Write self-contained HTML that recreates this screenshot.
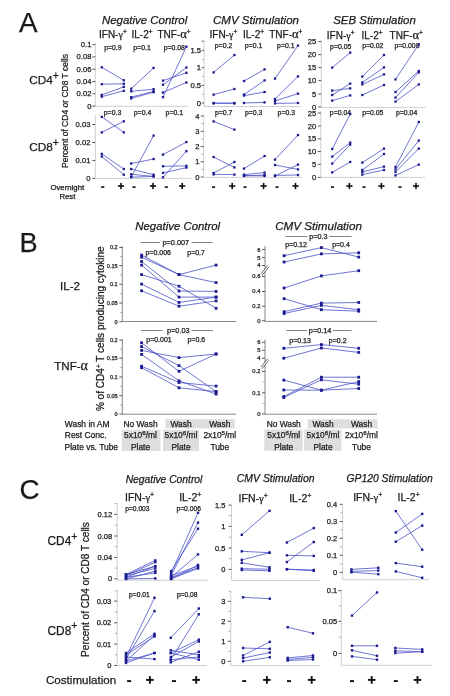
<!DOCTYPE html>
<html><head><meta charset="utf-8"><style>
html,body{margin:0;padding:0;background:#fff;width:450px;height:696px;overflow:hidden}
svg{display:block;font-family:"Liberation Sans",sans-serif;will-change:transform}
text{stroke:#1a1a1a;stroke-width:.25px}
</style></head><body>
<svg width="450" height="696" viewBox="0 0 450 696">
<rect width="450" height="696" fill="#fff"/>
<text x="19.0" y="31.7" font-size="27.8" text-anchor="start" fill="#1a1a1a" >A</text>
<text x="102.0" y="24.4" font-size="11.45" text-anchor="start" font-style="italic" fill="#1a1a1a" >Negative Control</text>
<text x="213.0" y="24.1" font-size="11.55" text-anchor="start" font-style="italic" fill="#1a1a1a" >CMV Stimulation</text>
<text x="333.2" y="24.4" font-size="11.45" text-anchor="start" font-style="italic" fill="#1a1a1a" >SEB Stimulation</text>
<text x="99.0" y="37.9" font-size="10" fill="#1a1a1a">IFN-<tspan font-family="Liberation Serif">γ</tspan><tspan dy="-3.8" font-size="6.5">+</tspan></text>
<text x="131.5" y="37.9" font-size="10" fill="#1a1a1a">IL-2<tspan dy="-3.8" font-size="6.5">+</tspan></text>
<text x="157.5" y="37.9" font-size="10" fill="#1a1a1a">TNF-<tspan font-family="Liberation Serif" font-size="12.5">α</tspan><tspan dy="-3.8" font-size="6.5">+</tspan></text>
<text x="209.5" y="37.9" font-size="10" fill="#1a1a1a">IFN-<tspan font-family="Liberation Serif">γ</tspan><tspan dy="-3.8" font-size="6.5">+</tspan></text>
<text x="243.0" y="37.9" font-size="10" fill="#1a1a1a">IL-2<tspan dy="-3.8" font-size="6.5">+</tspan></text>
<text x="269.2" y="37.9" font-size="10" fill="#1a1a1a">TNF-<tspan font-family="Liberation Serif" font-size="12.5">α</tspan><tspan dy="-3.8" font-size="6.5">+</tspan></text>
<text x="326.8" y="38.7" font-size="10" fill="#1a1a1a">IFN-<tspan font-family="Liberation Serif">γ</tspan><tspan dy="-3.8" font-size="6.5">+</tspan></text>
<text x="361.5" y="38.7" font-size="10" fill="#1a1a1a">IL-2<tspan dy="-3.8" font-size="6.5">+</tspan></text>
<text x="389.6" y="38.7" font-size="10" fill="#1a1a1a">TNF-<tspan font-family="Liberation Serif" font-size="12.5">α</tspan><tspan dy="-3.8" font-size="6.5">+</tspan></text>
<text x="29.2" y="84.2" font-size="11.8" fill="#1a1a1a">CD4<tspan dy="-5.2" font-size="10.5">+</tspan></text>
<text x="29.2" y="151.4" font-size="11.8" fill="#1a1a1a">CD8<tspan dy="-5.2" font-size="10.5">+</tspan></text>
<text x="0" y="0" font-size="8.5" fill="#1a1a1a" text-anchor="middle" transform="translate(68,111) rotate(-90)">Percent of CD4 or CD8 T cells</text>
<text x="67.3" y="189.5" font-size="7.8" text-anchor="middle" fill="#1a1a1a" >Overnight</text>
<text x="67.4" y="198.8" font-size="7.8" text-anchor="middle" fill="#1a1a1a" >Rest</text>
<line x1="95.3" y1="43.0" x2="95.3" y2="106.3" stroke="#c4c4c4" stroke-width="0.8"/>
<line x1="92.3" y1="44.6" x2="95.3" y2="44.6" stroke="#333333" stroke-width="0.8"/>
<text x="91.4" y="47.1" font-size="7.6" text-anchor="end" fill="#1a1a1a" >0.1</text>
<line x1="92.3" y1="56.9" x2="95.3" y2="56.9" stroke="#333333" stroke-width="0.8"/>
<text x="91.4" y="59.4" font-size="7.6" text-anchor="end" fill="#1a1a1a" >0.08</text>
<line x1="92.3" y1="69.2" x2="95.3" y2="69.2" stroke="#333333" stroke-width="0.8"/>
<text x="91.4" y="71.7" font-size="7.6" text-anchor="end" fill="#1a1a1a" >0.06</text>
<line x1="92.3" y1="81.5" x2="95.3" y2="81.5" stroke="#333333" stroke-width="0.8"/>
<text x="91.4" y="84.0" font-size="7.6" text-anchor="end" fill="#1a1a1a" >0.04</text>
<line x1="92.3" y1="93.8" x2="95.3" y2="93.8" stroke="#333333" stroke-width="0.8"/>
<text x="91.4" y="96.3" font-size="7.6" text-anchor="end" fill="#1a1a1a" >0.02</text>
<line x1="92.3" y1="106.1" x2="95.3" y2="106.1" stroke="#333333" stroke-width="0.8"/>
<text x="91.4" y="108.6" font-size="7.6" text-anchor="end" fill="#1a1a1a" >0</text>
<line x1="95.3" y1="106.3" x2="188.0" y2="106.3" stroke="#c4c4c4" stroke-width="0.8"/>
<line x1="95.3" y1="115.0" x2="95.3" y2="178.4" stroke="#c4c4c4" stroke-width="0.8"/>
<line x1="92.3" y1="124.5" x2="95.3" y2="124.5" stroke="#333333" stroke-width="0.8"/>
<text x="90.4" y="127.0" font-size="7.6" text-anchor="end" fill="#1a1a1a" >0.03</text>
<line x1="92.3" y1="142.5" x2="95.3" y2="142.5" stroke="#333333" stroke-width="0.8"/>
<text x="90.4" y="145.0" font-size="7.6" text-anchor="end" fill="#1a1a1a" >0.02</text>
<line x1="92.3" y1="160.5" x2="95.3" y2="160.5" stroke="#333333" stroke-width="0.8"/>
<text x="90.4" y="163.0" font-size="7.6" text-anchor="end" fill="#1a1a1a" >0.01</text>
<line x1="92.3" y1="178.4" x2="95.3" y2="178.4" stroke="#333333" stroke-width="0.8"/>
<text x="90.4" y="180.9" font-size="7.6" text-anchor="end" fill="#1a1a1a" >0</text>
<line x1="95.3" y1="178.4" x2="191.5" y2="178.4" stroke="#c4c4c4" stroke-width="0.8"/>
<line x1="204.1" y1="41.2" x2="204.1" y2="106.5" stroke="#c4c4c4" stroke-width="0.8"/>
<line x1="201.7" y1="41.2" x2="204.1" y2="41.2" stroke="#333333" stroke-width="0.8"/>
<line x1="201.7" y1="50.3" x2="204.1" y2="50.3" stroke="#333333" stroke-width="0.8"/>
<text x="201.0" y="52.8" font-size="7.6" text-anchor="end" fill="#1a1a1a" >1.5</text>
<line x1="201.7" y1="67.7" x2="204.1" y2="67.7" stroke="#333333" stroke-width="0.8"/>
<text x="201.0" y="70.2" font-size="7.6" text-anchor="end" fill="#1a1a1a" >1</text>
<line x1="201.7" y1="85.4" x2="204.1" y2="85.4" stroke="#333333" stroke-width="0.8"/>
<text x="201.0" y="87.9" font-size="7.6" text-anchor="end" fill="#1a1a1a" >0.5</text>
<line x1="201.7" y1="103.0" x2="204.1" y2="103.0" stroke="#333333" stroke-width="0.8"/>
<text x="201.0" y="105.5" font-size="7.6" text-anchor="end" fill="#1a1a1a" >0</text>
<line x1="202.2" y1="59.5" x2="204.1" y2="59.5" stroke="#909090" stroke-width="0.7"/>
<line x1="202.2" y1="76.5" x2="204.1" y2="76.5" stroke="#909090" stroke-width="0.7"/>
<line x1="202.2" y1="94.2" x2="204.1" y2="94.2" stroke="#909090" stroke-width="0.7"/>
<line x1="204.1" y1="106.5" x2="301.0" y2="106.5" stroke="#c4c4c4" stroke-width="0.8"/>
<line x1="203.7" y1="114.0" x2="203.7" y2="177.4" stroke="#c4c4c4" stroke-width="0.8"/>
<line x1="200.7" y1="116.0" x2="203.7" y2="116.0" stroke="#333333" stroke-width="0.8"/>
<text x="199.5" y="118.5" font-size="7.6" text-anchor="end" fill="#1a1a1a" >4</text>
<line x1="200.7" y1="131.3" x2="203.7" y2="131.3" stroke="#333333" stroke-width="0.8"/>
<text x="199.5" y="133.8" font-size="7.6" text-anchor="end" fill="#1a1a1a" >3</text>
<line x1="200.7" y1="146.6" x2="203.7" y2="146.6" stroke="#333333" stroke-width="0.8"/>
<text x="199.5" y="149.1" font-size="7.6" text-anchor="end" fill="#1a1a1a" >2</text>
<line x1="200.7" y1="161.8" x2="203.7" y2="161.8" stroke="#333333" stroke-width="0.8"/>
<text x="199.5" y="164.3" font-size="7.6" text-anchor="end" fill="#1a1a1a" >1</text>
<line x1="200.7" y1="177.0" x2="203.7" y2="177.0" stroke="#333333" stroke-width="0.8"/>
<text x="199.5" y="179.5" font-size="7.6" text-anchor="end" fill="#1a1a1a" >0</text>
<line x1="201.3" y1="123.6" x2="203.7" y2="123.6" stroke="#909090" stroke-width="0.7"/>
<line x1="201.3" y1="139.0" x2="203.7" y2="139.0" stroke="#909090" stroke-width="0.7"/>
<line x1="201.3" y1="154.2" x2="203.7" y2="154.2" stroke="#909090" stroke-width="0.7"/>
<line x1="201.3" y1="169.4" x2="203.7" y2="169.4" stroke="#909090" stroke-width="0.7"/>
<line x1="201.5" y1="177.4" x2="302.0" y2="177.4" stroke="#c4c4c4" stroke-width="0.8"/>
<line x1="321.3" y1="40.0" x2="321.3" y2="107.0" stroke="#c4c4c4" stroke-width="0.8"/>
<line x1="318.3" y1="41.6" x2="321.3" y2="41.6" stroke="#333333" stroke-width="0.8"/>
<text x="316.2" y="44.1" font-size="7.6" text-anchor="end" fill="#1a1a1a" >25</text>
<line x1="318.3" y1="54.6" x2="321.3" y2="54.6" stroke="#333333" stroke-width="0.8"/>
<text x="316.2" y="57.1" font-size="7.6" text-anchor="end" fill="#1a1a1a" >20</text>
<line x1="318.3" y1="67.6" x2="321.3" y2="67.6" stroke="#333333" stroke-width="0.8"/>
<text x="316.2" y="70.1" font-size="7.6" text-anchor="end" fill="#1a1a1a" >15</text>
<line x1="318.3" y1="80.6" x2="321.3" y2="80.6" stroke="#333333" stroke-width="0.8"/>
<text x="316.2" y="83.1" font-size="7.6" text-anchor="end" fill="#1a1a1a" >10</text>
<line x1="318.3" y1="94.0" x2="321.3" y2="94.0" stroke="#333333" stroke-width="0.8"/>
<text x="316.2" y="96.5" font-size="7.6" text-anchor="end" fill="#1a1a1a" >5</text>
<line x1="318.3" y1="107.0" x2="321.3" y2="107.0" stroke="#333333" stroke-width="0.8"/>
<text x="316.2" y="109.5" font-size="7.6" text-anchor="end" fill="#1a1a1a" >0</text>
<line x1="321.3" y1="107.4" x2="426.0" y2="107.4" stroke="#c4c4c4" stroke-width="0.8"/>
<line x1="320.8" y1="111.0" x2="320.8" y2="177.4" stroke="#c4c4c4" stroke-width="0.8"/>
<line x1="317.8" y1="113.0" x2="320.8" y2="113.0" stroke="#333333" stroke-width="0.8"/>
<text x="316.2" y="115.5" font-size="7.6" text-anchor="end" fill="#1a1a1a" >25</text>
<line x1="317.8" y1="126.0" x2="320.8" y2="126.0" stroke="#333333" stroke-width="0.8"/>
<text x="316.2" y="128.5" font-size="7.6" text-anchor="end" fill="#1a1a1a" >20</text>
<line x1="317.8" y1="138.8" x2="320.8" y2="138.8" stroke="#333333" stroke-width="0.8"/>
<text x="316.2" y="141.3" font-size="7.6" text-anchor="end" fill="#1a1a1a" >15</text>
<line x1="317.8" y1="151.5" x2="320.8" y2="151.5" stroke="#333333" stroke-width="0.8"/>
<text x="316.2" y="154.0" font-size="7.6" text-anchor="end" fill="#1a1a1a" >10</text>
<line x1="317.8" y1="164.4" x2="320.8" y2="164.4" stroke="#333333" stroke-width="0.8"/>
<text x="316.2" y="166.9" font-size="7.6" text-anchor="end" fill="#1a1a1a" >5</text>
<line x1="317.8" y1="177.4" x2="320.8" y2="177.4" stroke="#333333" stroke-width="0.8"/>
<text x="316.2" y="179.9" font-size="7.6" text-anchor="end" fill="#1a1a1a" >0</text>
<line x1="320.8" y1="177.4" x2="425.0" y2="177.4" stroke="#c4c4c4" stroke-width="0.8"/>
<text x="112.9" y="50.0" font-size="6.9" text-anchor="middle" fill="#1a1a1a" >p=0.9</text>
<text x="142.0" y="50.0" font-size="6.9" text-anchor="middle" fill="#1a1a1a" >p=0.1</text>
<text x="174.3" y="50.0" font-size="6.9" text-anchor="middle" fill="#1a1a1a" >p=0.08</text>
<text x="223.5" y="48.1" font-size="6.9" text-anchor="middle" fill="#1a1a1a" >p=0.2</text>
<text x="253.5" y="48.1" font-size="6.9" text-anchor="middle" fill="#1a1a1a" >p=0.1</text>
<text x="285.8" y="48.1" font-size="6.9" text-anchor="middle" fill="#1a1a1a" >p=0.1</text>
<text x="340.7" y="48.9" font-size="6.9" text-anchor="middle" fill="#1a1a1a" >p=0.05</text>
<text x="372.8" y="48.2" font-size="6.9" text-anchor="middle" fill="#1a1a1a" >p=0.02</text>
<text x="407.0" y="47.5" font-size="6.9" text-anchor="middle" fill="#1a1a1a" >p=0.008</text>
<text x="112.5" y="114.9" font-size="6.9" text-anchor="middle" fill="#1a1a1a" >p=0.3</text>
<text x="142.5" y="114.9" font-size="6.9" text-anchor="middle" fill="#1a1a1a" >p=0.4</text>
<text x="174.3" y="114.9" font-size="6.9" text-anchor="middle" fill="#1a1a1a" >p=0.1</text>
<text x="223.7" y="115.1" font-size="6.9" text-anchor="middle" fill="#1a1a1a" >p=0.7</text>
<text x="253.7" y="115.1" font-size="6.9" text-anchor="middle" fill="#1a1a1a" >p=0.3</text>
<text x="286.3" y="115.1" font-size="6.9" text-anchor="middle" fill="#1a1a1a" >p=0.3</text>
<text x="340.5" y="114.7" font-size="6.9" text-anchor="middle" fill="#1a1a1a" >p=0.04</text>
<text x="372.8" y="114.7" font-size="6.9" text-anchor="middle" fill="#1a1a1a" >p=0.05</text>
<text x="406.6" y="114.7" font-size="6.9" text-anchor="middle" fill="#1a1a1a" >p=0.04</text>
<line x1="101.8" y1="67.3" x2="123.8" y2="80.3" stroke="#4a52c8" stroke-width="0.8"/>
<line x1="101.8" y1="84.2" x2="123.8" y2="83.8" stroke="#4a52c8" stroke-width="0.8"/>
<line x1="101.8" y1="94.9" x2="123.8" y2="86.9" stroke="#4a52c8" stroke-width="0.8"/>
<line x1="101.8" y1="96.7" x2="123.8" y2="90.8" stroke="#4a52c8" stroke-width="0.8"/>
<rect x="100.65" y="66.15" width="2.3" height="2.3" fill="#1c1c90"/>
<rect x="122.65" y="79.15" width="2.3" height="2.3" fill="#1c1c90"/>
<rect x="100.65" y="83.05" width="2.3" height="2.3" fill="#1c1c90"/>
<rect x="122.65" y="82.65" width="2.3" height="2.3" fill="#1c1c90"/>
<rect x="100.65" y="93.75" width="2.3" height="2.3" fill="#1c1c90"/>
<rect x="122.65" y="85.75" width="2.3" height="2.3" fill="#1c1c90"/>
<rect x="100.65" y="95.55" width="2.3" height="2.3" fill="#1c1c90"/>
<rect x="122.65" y="89.65" width="2.3" height="2.3" fill="#1c1c90"/>
<line x1="131.2" y1="88.7" x2="153.6" y2="67.9" stroke="#4a52c8" stroke-width="0.8"/>
<line x1="131.2" y1="91.3" x2="153.6" y2="89.2" stroke="#4a52c8" stroke-width="0.8"/>
<line x1="131.2" y1="97.2" x2="153.6" y2="91.3" stroke="#4a52c8" stroke-width="0.8"/>
<line x1="131.2" y1="98.4" x2="153.6" y2="92.2" stroke="#4a52c8" stroke-width="0.8"/>
<rect x="130.05" y="87.55" width="2.3" height="2.3" fill="#1c1c90"/>
<rect x="152.45" y="66.75" width="2.3" height="2.3" fill="#1c1c90"/>
<rect x="130.05" y="90.15" width="2.3" height="2.3" fill="#1c1c90"/>
<rect x="152.45" y="88.05" width="2.3" height="2.3" fill="#1c1c90"/>
<rect x="130.05" y="96.05" width="2.3" height="2.3" fill="#1c1c90"/>
<rect x="152.45" y="90.15" width="2.3" height="2.3" fill="#1c1c90"/>
<rect x="130.05" y="97.25" width="2.3" height="2.3" fill="#1c1c90"/>
<rect x="152.45" y="91.05" width="2.3" height="2.3" fill="#1c1c90"/>
<line x1="163" y1="80.6" x2="186.4" y2="72.8" stroke="#4a52c8" stroke-width="0.8"/>
<line x1="163" y1="84.7" x2="186.4" y2="67.5" stroke="#4a52c8" stroke-width="0.8"/>
<line x1="163" y1="92.5" x2="186.4" y2="82.5" stroke="#4a52c8" stroke-width="0.8"/>
<line x1="163" y1="97.2" x2="186.4" y2="46.7" stroke="#4a52c8" stroke-width="0.8"/>
<rect x="161.85" y="79.45" width="2.3" height="2.3" fill="#1c1c90"/>
<rect x="185.25" y="71.65" width="2.3" height="2.3" fill="#1c1c90"/>
<rect x="161.85" y="83.55" width="2.3" height="2.3" fill="#1c1c90"/>
<rect x="185.25" y="66.35" width="2.3" height="2.3" fill="#1c1c90"/>
<rect x="161.85" y="91.35" width="2.3" height="2.3" fill="#1c1c90"/>
<rect x="185.25" y="81.35" width="2.3" height="2.3" fill="#1c1c90"/>
<rect x="161.85" y="96.05" width="2.3" height="2.3" fill="#1c1c90"/>
<rect x="185.25" y="45.55" width="2.3" height="2.3" fill="#1c1c90"/>
<line x1="101.8" y1="116.9" x2="123.8" y2="132.4" stroke="#4a52c8" stroke-width="0.8"/>
<line x1="101.8" y1="132.4" x2="123.8" y2="121.3" stroke="#4a52c8" stroke-width="0.8"/>
<line x1="101.8" y1="153.9" x2="123.8" y2="169" stroke="#4a52c8" stroke-width="0.8"/>
<line x1="101.8" y1="156.5" x2="123.8" y2="174.7" stroke="#4a52c8" stroke-width="0.8"/>
<rect x="100.65" y="115.75" width="2.3" height="2.3" fill="#1c1c90"/>
<rect x="122.65" y="131.25" width="2.3" height="2.3" fill="#1c1c90"/>
<rect x="100.65" y="131.25" width="2.3" height="2.3" fill="#1c1c90"/>
<rect x="122.65" y="120.15" width="2.3" height="2.3" fill="#1c1c90"/>
<rect x="100.65" y="152.75" width="2.3" height="2.3" fill="#1c1c90"/>
<rect x="122.65" y="167.85" width="2.3" height="2.3" fill="#1c1c90"/>
<rect x="100.65" y="155.35" width="2.3" height="2.3" fill="#1c1c90"/>
<rect x="122.65" y="173.55" width="2.3" height="2.3" fill="#1c1c90"/>
<line x1="131.2" y1="176.8" x2="153.6" y2="135.6" stroke="#4a52c8" stroke-width="0.8"/>
<line x1="131.2" y1="163.5" x2="153.6" y2="159" stroke="#4a52c8" stroke-width="0.8"/>
<line x1="131.2" y1="169" x2="153.6" y2="174.7" stroke="#4a52c8" stroke-width="0.8"/>
<line x1="131.2" y1="174.3" x2="153.6" y2="176.4" stroke="#4a52c8" stroke-width="0.8"/>
<line x1="131.2" y1="177.2" x2="153.6" y2="176.4" stroke="#4a52c8" stroke-width="0.8"/>
<rect x="130.05" y="175.65" width="2.3" height="2.3" fill="#1c1c90"/>
<rect x="152.45" y="134.45" width="2.3" height="2.3" fill="#1c1c90"/>
<rect x="130.05" y="162.35" width="2.3" height="2.3" fill="#1c1c90"/>
<rect x="152.45" y="157.85" width="2.3" height="2.3" fill="#1c1c90"/>
<rect x="130.05" y="167.85" width="2.3" height="2.3" fill="#1c1c90"/>
<rect x="152.45" y="173.55" width="2.3" height="2.3" fill="#1c1c90"/>
<rect x="130.05" y="173.15" width="2.3" height="2.3" fill="#1c1c90"/>
<rect x="152.45" y="175.25" width="2.3" height="2.3" fill="#1c1c90"/>
<rect x="130.05" y="176.05" width="2.3" height="2.3" fill="#1c1c90"/>
<rect x="152.45" y="175.25" width="2.3" height="2.3" fill="#1c1c90"/>
<line x1="163" y1="154.6" x2="186.4" y2="142.1" stroke="#4a52c8" stroke-width="0.8"/>
<line x1="163" y1="177.3" x2="186.4" y2="151.2" stroke="#4a52c8" stroke-width="0.8"/>
<line x1="163" y1="166.3" x2="186.4" y2="165.8" stroke="#4a52c8" stroke-width="0.8"/>
<line x1="163" y1="172.9" x2="186.4" y2="167.6" stroke="#4a52c8" stroke-width="0.8"/>
<rect x="161.85" y="153.45" width="2.3" height="2.3" fill="#1c1c90"/>
<rect x="185.25" y="140.95" width="2.3" height="2.3" fill="#1c1c90"/>
<rect x="161.85" y="176.15" width="2.3" height="2.3" fill="#1c1c90"/>
<rect x="185.25" y="150.05" width="2.3" height="2.3" fill="#1c1c90"/>
<rect x="161.85" y="165.15" width="2.3" height="2.3" fill="#1c1c90"/>
<rect x="185.25" y="164.65" width="2.3" height="2.3" fill="#1c1c90"/>
<rect x="161.85" y="171.75" width="2.3" height="2.3" fill="#1c1c90"/>
<rect x="185.25" y="166.45" width="2.3" height="2.3" fill="#1c1c90"/>
<line x1="213.6" y1="72.4" x2="234.4" y2="55" stroke="#4a52c8" stroke-width="0.8"/>
<line x1="213.6" y1="94.6" x2="234.4" y2="89" stroke="#4a52c8" stroke-width="0.8"/>
<line x1="213.6" y1="103" x2="234.4" y2="103.4" stroke="#4a52c8" stroke-width="0.8"/>
<line x1="213.6" y1="103.4" x2="234.4" y2="103" stroke="#4a52c8" stroke-width="0.8"/>
<rect x="212.45" y="71.25" width="2.3" height="2.3" fill="#1c1c90"/>
<rect x="233.25" y="53.85" width="2.3" height="2.3" fill="#1c1c90"/>
<rect x="212.45" y="93.45" width="2.3" height="2.3" fill="#1c1c90"/>
<rect x="233.25" y="87.85" width="2.3" height="2.3" fill="#1c1c90"/>
<rect x="212.45" y="101.85" width="2.3" height="2.3" fill="#1c1c90"/>
<rect x="233.25" y="102.25" width="2.3" height="2.3" fill="#1c1c90"/>
<rect x="212.45" y="102.25" width="2.3" height="2.3" fill="#1c1c90"/>
<rect x="233.25" y="101.85" width="2.3" height="2.3" fill="#1c1c90"/>
<line x1="244" y1="81" x2="264.6" y2="69.4" stroke="#4a52c8" stroke-width="0.8"/>
<line x1="244" y1="94.6" x2="264.6" y2="80.4" stroke="#4a52c8" stroke-width="0.8"/>
<line x1="244" y1="95.6" x2="264.6" y2="92" stroke="#4a52c8" stroke-width="0.8"/>
<line x1="244" y1="103" x2="264.6" y2="102.4" stroke="#4a52c8" stroke-width="0.8"/>
<rect x="242.85" y="79.85" width="2.3" height="2.3" fill="#1c1c90"/>
<rect x="263.45" y="68.25" width="2.3" height="2.3" fill="#1c1c90"/>
<rect x="242.85" y="93.45" width="2.3" height="2.3" fill="#1c1c90"/>
<rect x="263.45" y="79.25" width="2.3" height="2.3" fill="#1c1c90"/>
<rect x="242.85" y="94.45" width="2.3" height="2.3" fill="#1c1c90"/>
<rect x="263.45" y="90.85" width="2.3" height="2.3" fill="#1c1c90"/>
<rect x="242.85" y="101.85" width="2.3" height="2.3" fill="#1c1c90"/>
<rect x="263.45" y="101.25" width="2.3" height="2.3" fill="#1c1c90"/>
<line x1="275" y1="78.6" x2="298" y2="45.6" stroke="#4a52c8" stroke-width="0.8"/>
<line x1="275" y1="99" x2="298" y2="76.4" stroke="#4a52c8" stroke-width="0.8"/>
<line x1="275" y1="101" x2="298" y2="93.6" stroke="#4a52c8" stroke-width="0.8"/>
<line x1="275" y1="103.4" x2="298" y2="103" stroke="#4a52c8" stroke-width="0.8"/>
<rect x="273.85" y="77.45" width="2.3" height="2.3" fill="#1c1c90"/>
<rect x="296.85" y="44.45" width="2.3" height="2.3" fill="#1c1c90"/>
<rect x="273.85" y="97.85" width="2.3" height="2.3" fill="#1c1c90"/>
<rect x="296.85" y="75.25" width="2.3" height="2.3" fill="#1c1c90"/>
<rect x="273.85" y="99.85" width="2.3" height="2.3" fill="#1c1c90"/>
<rect x="296.85" y="92.45" width="2.3" height="2.3" fill="#1c1c90"/>
<rect x="273.85" y="102.25" width="2.3" height="2.3" fill="#1c1c90"/>
<rect x="296.85" y="101.85" width="2.3" height="2.3" fill="#1c1c90"/>
<line x1="213.6" y1="121.4" x2="234.4" y2="129.6" stroke="#4a52c8" stroke-width="0.8"/>
<line x1="213.6" y1="157" x2="234.4" y2="167.4" stroke="#4a52c8" stroke-width="0.8"/>
<line x1="213.6" y1="173" x2="234.4" y2="162" stroke="#4a52c8" stroke-width="0.8"/>
<line x1="213.6" y1="174.4" x2="234.4" y2="174.6" stroke="#4a52c8" stroke-width="0.8"/>
<rect x="212.45" y="120.25" width="2.3" height="2.3" fill="#1c1c90"/>
<rect x="233.25" y="128.45" width="2.3" height="2.3" fill="#1c1c90"/>
<rect x="212.45" y="155.85" width="2.3" height="2.3" fill="#1c1c90"/>
<rect x="233.25" y="166.25" width="2.3" height="2.3" fill="#1c1c90"/>
<rect x="212.45" y="171.85" width="2.3" height="2.3" fill="#1c1c90"/>
<rect x="233.25" y="160.85" width="2.3" height="2.3" fill="#1c1c90"/>
<rect x="212.45" y="173.25" width="2.3" height="2.3" fill="#1c1c90"/>
<rect x="233.25" y="173.45" width="2.3" height="2.3" fill="#1c1c90"/>
<line x1="244" y1="168.6" x2="264.6" y2="156" stroke="#4a52c8" stroke-width="0.8"/>
<line x1="244" y1="174.6" x2="264.6" y2="172.6" stroke="#4a52c8" stroke-width="0.8"/>
<line x1="244" y1="176" x2="264.6" y2="175" stroke="#4a52c8" stroke-width="0.8"/>
<line x1="244" y1="175.5" x2="264.6" y2="176" stroke="#4a52c8" stroke-width="0.8"/>
<rect x="242.85" y="167.45" width="2.3" height="2.3" fill="#1c1c90"/>
<rect x="263.45" y="154.85" width="2.3" height="2.3" fill="#1c1c90"/>
<rect x="242.85" y="173.45" width="2.3" height="2.3" fill="#1c1c90"/>
<rect x="263.45" y="171.45" width="2.3" height="2.3" fill="#1c1c90"/>
<rect x="242.85" y="174.85" width="2.3" height="2.3" fill="#1c1c90"/>
<rect x="263.45" y="173.85" width="2.3" height="2.3" fill="#1c1c90"/>
<rect x="242.85" y="174.35" width="2.3" height="2.3" fill="#1c1c90"/>
<rect x="263.45" y="174.85" width="2.3" height="2.3" fill="#1c1c90"/>
<line x1="275" y1="159.6" x2="298" y2="135" stroke="#4a52c8" stroke-width="0.8"/>
<line x1="275" y1="165" x2="298" y2="169.4" stroke="#4a52c8" stroke-width="0.8"/>
<line x1="275" y1="176" x2="298" y2="164.6" stroke="#4a52c8" stroke-width="0.8"/>
<line x1="275" y1="175.4" x2="298" y2="175" stroke="#4a52c8" stroke-width="0.8"/>
<rect x="273.85" y="158.45" width="2.3" height="2.3" fill="#1c1c90"/>
<rect x="296.85" y="133.85" width="2.3" height="2.3" fill="#1c1c90"/>
<rect x="273.85" y="163.85" width="2.3" height="2.3" fill="#1c1c90"/>
<rect x="296.85" y="168.25" width="2.3" height="2.3" fill="#1c1c90"/>
<rect x="273.85" y="174.85" width="2.3" height="2.3" fill="#1c1c90"/>
<rect x="296.85" y="163.45" width="2.3" height="2.3" fill="#1c1c90"/>
<rect x="273.85" y="174.25" width="2.3" height="2.3" fill="#1c1c90"/>
<rect x="296.85" y="173.85" width="2.3" height="2.3" fill="#1c1c90"/>
<line x1="332.2" y1="67.6" x2="350.2" y2="52.6" stroke="#4a52c8" stroke-width="0.8"/>
<line x1="332.2" y1="90.6" x2="350.2" y2="88.4" stroke="#4a52c8" stroke-width="0.8"/>
<line x1="332.2" y1="95" x2="350.2" y2="83.6" stroke="#4a52c8" stroke-width="0.8"/>
<line x1="332.2" y1="100.6" x2="350.2" y2="95.4" stroke="#4a52c8" stroke-width="0.8"/>
<rect x="331.05" y="66.45" width="2.3" height="2.3" fill="#1c1c90"/>
<rect x="349.05" y="51.45" width="2.3" height="2.3" fill="#1c1c90"/>
<rect x="331.05" y="89.45" width="2.3" height="2.3" fill="#1c1c90"/>
<rect x="349.05" y="87.25" width="2.3" height="2.3" fill="#1c1c90"/>
<rect x="331.05" y="93.85" width="2.3" height="2.3" fill="#1c1c90"/>
<rect x="349.05" y="82.45" width="2.3" height="2.3" fill="#1c1c90"/>
<rect x="331.05" y="99.45" width="2.3" height="2.3" fill="#1c1c90"/>
<rect x="349.05" y="94.25" width="2.3" height="2.3" fill="#1c1c90"/>
<line x1="362.3" y1="76.6" x2="384" y2="55" stroke="#4a52c8" stroke-width="0.8"/>
<line x1="362.3" y1="82.4" x2="384" y2="67.4" stroke="#4a52c8" stroke-width="0.8"/>
<line x1="362.3" y1="84.4" x2="384" y2="74.4" stroke="#4a52c8" stroke-width="0.8"/>
<line x1="362.3" y1="95" x2="384" y2="85" stroke="#4a52c8" stroke-width="0.8"/>
<rect x="361.15" y="75.45" width="2.3" height="2.3" fill="#1c1c90"/>
<rect x="382.85" y="53.85" width="2.3" height="2.3" fill="#1c1c90"/>
<rect x="361.15" y="81.25" width="2.3" height="2.3" fill="#1c1c90"/>
<rect x="382.85" y="66.25" width="2.3" height="2.3" fill="#1c1c90"/>
<rect x="361.15" y="83.25" width="2.3" height="2.3" fill="#1c1c90"/>
<rect x="382.85" y="73.25" width="2.3" height="2.3" fill="#1c1c90"/>
<rect x="361.15" y="93.85" width="2.3" height="2.3" fill="#1c1c90"/>
<rect x="382.85" y="83.85" width="2.3" height="2.3" fill="#1c1c90"/>
<line x1="395.5" y1="79.4" x2="418.8" y2="44.4" stroke="#4a52c8" stroke-width="0.8"/>
<line x1="395.5" y1="92" x2="418.8" y2="71" stroke="#4a52c8" stroke-width="0.8"/>
<line x1="395.5" y1="97.6" x2="418.8" y2="72.4" stroke="#4a52c8" stroke-width="0.8"/>
<line x1="395.5" y1="101.6" x2="418.8" y2="84.4" stroke="#4a52c8" stroke-width="0.8"/>
<rect x="394.35" y="78.25" width="2.3" height="2.3" fill="#1c1c90"/>
<rect x="417.65" y="43.25" width="2.3" height="2.3" fill="#1c1c90"/>
<rect x="394.35" y="90.85" width="2.3" height="2.3" fill="#1c1c90"/>
<rect x="417.65" y="69.85" width="2.3" height="2.3" fill="#1c1c90"/>
<rect x="394.35" y="96.45" width="2.3" height="2.3" fill="#1c1c90"/>
<rect x="417.65" y="71.25" width="2.3" height="2.3" fill="#1c1c90"/>
<rect x="394.35" y="100.45" width="2.3" height="2.3" fill="#1c1c90"/>
<rect x="417.65" y="83.25" width="2.3" height="2.3" fill="#1c1c90"/>
<line x1="332.2" y1="149" x2="350.2" y2="114" stroke="#4a52c8" stroke-width="0.8"/>
<line x1="332.2" y1="156.6" x2="350.2" y2="142.6" stroke="#4a52c8" stroke-width="0.8"/>
<line x1="332.2" y1="163.6" x2="350.2" y2="144.6" stroke="#4a52c8" stroke-width="0.8"/>
<line x1="332.2" y1="172.4" x2="350.2" y2="162" stroke="#4a52c8" stroke-width="0.8"/>
<rect x="331.05" y="147.85" width="2.3" height="2.3" fill="#1c1c90"/>
<rect x="349.05" y="112.85" width="2.3" height="2.3" fill="#1c1c90"/>
<rect x="331.05" y="155.45" width="2.3" height="2.3" fill="#1c1c90"/>
<rect x="349.05" y="141.45" width="2.3" height="2.3" fill="#1c1c90"/>
<rect x="331.05" y="162.45" width="2.3" height="2.3" fill="#1c1c90"/>
<rect x="349.05" y="143.45" width="2.3" height="2.3" fill="#1c1c90"/>
<rect x="331.05" y="171.25" width="2.3" height="2.3" fill="#1c1c90"/>
<rect x="349.05" y="160.85" width="2.3" height="2.3" fill="#1c1c90"/>
<line x1="362.3" y1="162.6" x2="384" y2="148.6" stroke="#4a52c8" stroke-width="0.8"/>
<line x1="362.3" y1="170" x2="384" y2="154" stroke="#4a52c8" stroke-width="0.8"/>
<line x1="362.3" y1="172" x2="384" y2="166.6" stroke="#4a52c8" stroke-width="0.8"/>
<line x1="362.3" y1="174.6" x2="384" y2="170" stroke="#4a52c8" stroke-width="0.8"/>
<rect x="361.15" y="161.45" width="2.3" height="2.3" fill="#1c1c90"/>
<rect x="382.85" y="147.45" width="2.3" height="2.3" fill="#1c1c90"/>
<rect x="361.15" y="168.85" width="2.3" height="2.3" fill="#1c1c90"/>
<rect x="382.85" y="152.85" width="2.3" height="2.3" fill="#1c1c90"/>
<rect x="361.15" y="170.85" width="2.3" height="2.3" fill="#1c1c90"/>
<rect x="382.85" y="165.45" width="2.3" height="2.3" fill="#1c1c90"/>
<rect x="361.15" y="173.45" width="2.3" height="2.3" fill="#1c1c90"/>
<rect x="382.85" y="168.85" width="2.3" height="2.3" fill="#1c1c90"/>
<line x1="395.5" y1="167" x2="418.8" y2="122" stroke="#4a52c8" stroke-width="0.8"/>
<line x1="395.5" y1="169.4" x2="418.8" y2="140.6" stroke="#4a52c8" stroke-width="0.8"/>
<line x1="395.5" y1="172" x2="418.8" y2="148.6" stroke="#4a52c8" stroke-width="0.8"/>
<line x1="395.5" y1="175.4" x2="418.8" y2="164.6" stroke="#4a52c8" stroke-width="0.8"/>
<rect x="394.35" y="165.85" width="2.3" height="2.3" fill="#1c1c90"/>
<rect x="417.65" y="120.85" width="2.3" height="2.3" fill="#1c1c90"/>
<rect x="394.35" y="168.25" width="2.3" height="2.3" fill="#1c1c90"/>
<rect x="417.65" y="139.45" width="2.3" height="2.3" fill="#1c1c90"/>
<rect x="394.35" y="170.85" width="2.3" height="2.3" fill="#1c1c90"/>
<rect x="417.65" y="147.45" width="2.3" height="2.3" fill="#1c1c90"/>
<rect x="394.35" y="174.25" width="2.3" height="2.3" fill="#1c1c90"/>
<rect x="417.65" y="163.45" width="2.3" height="2.3" fill="#1c1c90"/>
<rect x="101.10" y="186.30" width="3.2" height="1.6" fill="#111"/>
<rect x="117.90" y="185.20" width="6.2" height="1.6" fill="#111"/>
<rect x="120.20" y="182.90" width="1.6" height="6.2" fill="#111"/>
<rect x="132.40" y="186.30" width="3.2" height="1.6" fill="#111"/>
<rect x="149.90" y="185.20" width="6.2" height="1.6" fill="#111"/>
<rect x="152.20" y="182.90" width="1.6" height="6.2" fill="#111"/>
<rect x="164.70" y="186.30" width="3.2" height="1.6" fill="#111"/>
<rect x="179.10" y="185.20" width="6.2" height="1.6" fill="#111"/>
<rect x="181.40" y="182.90" width="1.6" height="6.2" fill="#111"/>
<rect x="211.90" y="186.30" width="3.2" height="1.6" fill="#111"/>
<rect x="229.10" y="185.20" width="6.2" height="1.6" fill="#111"/>
<rect x="231.40" y="182.90" width="1.6" height="6.2" fill="#111"/>
<rect x="243.40" y="186.30" width="3.2" height="1.6" fill="#111"/>
<rect x="260.50" y="185.20" width="6.2" height="1.6" fill="#111"/>
<rect x="262.80" y="182.90" width="1.6" height="6.2" fill="#111"/>
<rect x="275.40" y="186.30" width="3.2" height="1.6" fill="#111"/>
<rect x="292.40" y="185.20" width="6.2" height="1.6" fill="#111"/>
<rect x="294.70" y="182.90" width="1.6" height="6.2" fill="#111"/>
<rect x="330.80" y="186.30" width="3.2" height="1.6" fill="#111"/>
<rect x="346.30" y="185.20" width="6.2" height="1.6" fill="#111"/>
<rect x="348.60" y="182.90" width="1.6" height="6.2" fill="#111"/>
<rect x="362.40" y="186.30" width="3.2" height="1.6" fill="#111"/>
<rect x="378.30" y="185.20" width="6.2" height="1.6" fill="#111"/>
<rect x="380.60" y="182.90" width="1.6" height="6.2" fill="#111"/>
<rect x="398.40" y="186.30" width="3.2" height="1.6" fill="#111"/>
<rect x="412.90" y="185.20" width="6.2" height="1.6" fill="#111"/>
<rect x="415.20" y="182.90" width="1.6" height="6.2" fill="#111"/>
<text x="19.6" y="251.7" font-size="27.2" text-anchor="start" fill="#1a1a1a" >B</text>
<text x="135.3" y="230.1" font-size="11.4" text-anchor="start" font-style="italic" fill="#1a1a1a" >Negative Control</text>
<text x="275.2" y="230.2" font-size="11.65" text-anchor="start" font-style="italic" fill="#1a1a1a" >CMV Stimulation</text>
<text x="60.0" y="289.9" font-size="11.6" text-anchor="start" fill="#1a1a1a" >IL-2</text>
<text x="54.2" y="369.8" font-size="11.6" fill="#1a1a1a">TNF-<tspan font-family="Liberation Serif" font-size="14">α</tspan></text>
<text x="0" y="0" font-size="10.05" fill="#1a1a1a" text-anchor="middle" transform="translate(103.5,328.7) rotate(-90)">% of CD4<tspan dy="-3" font-size="6.5">+</tspan><tspan dy="3"> T cells producing cytokine</tspan></text>
<line x1="122.3" y1="246.0" x2="122.3" y2="321.5" stroke="#6a6a6a" stroke-width="0.8"/>
<line x1="119.3" y1="247.5" x2="122.3" y2="247.5" stroke="#333333" stroke-width="0.8"/>
<text x="117.7" y="249.3" font-size="5.6" text-anchor="end" fill="#1a1a1a" >0.2</text>
<line x1="119.3" y1="265.7" x2="122.3" y2="265.7" stroke="#333333" stroke-width="0.8"/>
<text x="117.7" y="267.5" font-size="5.6" text-anchor="end" fill="#1a1a1a" >0.15</text>
<line x1="119.3" y1="284.2" x2="122.3" y2="284.2" stroke="#333333" stroke-width="0.8"/>
<text x="117.7" y="286.0" font-size="5.6" text-anchor="end" fill="#1a1a1a" >0.1</text>
<line x1="119.3" y1="303.0" x2="122.3" y2="303.0" stroke="#333333" stroke-width="0.8"/>
<text x="117.7" y="304.8" font-size="5.6" text-anchor="end" fill="#1a1a1a" >0.05</text>
<line x1="119.3" y1="321.7" x2="122.3" y2="321.7" stroke="#333333" stroke-width="0.8"/>
<text x="117.7" y="323.5" font-size="5.6" text-anchor="end" fill="#1a1a1a" >0</text>
<line x1="119.9" y1="256.6" x2="122.3" y2="256.6" stroke="#909090" stroke-width="0.7"/>
<line x1="119.9" y1="274.9" x2="122.3" y2="274.9" stroke="#909090" stroke-width="0.7"/>
<line x1="119.9" y1="293.6" x2="122.3" y2="293.6" stroke="#909090" stroke-width="0.7"/>
<line x1="119.9" y1="312.4" x2="122.3" y2="312.4" stroke="#909090" stroke-width="0.7"/>
<line x1="122.3" y1="321.5" x2="236.0" y2="321.5" stroke="#6a6a6a" stroke-width="0.8"/>
<line x1="140.5" y1="242.5" x2="160.0" y2="242.5" stroke="#777" stroke-width="0.9"/>
<line x1="191.6" y1="242.5" x2="212.7" y2="242.5" stroke="#777" stroke-width="0.9"/>
<text x="175.8" y="245.1" font-size="7.3" text-anchor="middle" fill="#1a1a1a" >p=0.007</text>
<text x="158.2" y="254.9" font-size="7" text-anchor="middle" fill="#1a1a1a" >p=0.006</text>
<text x="196.1" y="254.9" font-size="7" text-anchor="middle" fill="#1a1a1a" >p=0.7</text>
<polyline points="141.6,255.1 179,274.6 216.1,265.1" fill="none" stroke="#4a52c8" stroke-width="0.8"/>
<polyline points="141.6,257.2 179,274.6 216.1,282.6" fill="none" stroke="#4a52c8" stroke-width="0.8"/>
<polyline points="141.6,261.5 179,291 216.1,291.4" fill="none" stroke="#4a52c8" stroke-width="0.8"/>
<polyline points="141.6,265.1 179,297.1 216.1,297.1" fill="none" stroke="#4a52c8" stroke-width="0.8"/>
<polyline points="141.6,274.6 179,286.2 216.1,308.3" fill="none" stroke="#4a52c8" stroke-width="0.8"/>
<polyline points="141.6,284.1 179,302.4 216.1,297.1" fill="none" stroke="#4a52c8" stroke-width="0.8"/>
<polyline points="141.6,290.8 179,306.2 216.1,300.9" fill="none" stroke="#4a52c8" stroke-width="0.8"/>
<rect x="140.20" y="253.70" width="2.8" height="2.8" fill="#1c1c90"/>
<rect x="177.60" y="273.20" width="2.8" height="2.8" fill="#1c1c90"/>
<rect x="214.70" y="263.70" width="2.8" height="2.8" fill="#1c1c90"/>
<rect x="140.20" y="255.80" width="2.8" height="2.8" fill="#1c1c90"/>
<rect x="177.60" y="273.20" width="2.8" height="2.8" fill="#1c1c90"/>
<rect x="214.70" y="281.20" width="2.8" height="2.8" fill="#1c1c90"/>
<rect x="140.20" y="260.10" width="2.8" height="2.8" fill="#1c1c90"/>
<rect x="177.60" y="289.60" width="2.8" height="2.8" fill="#1c1c90"/>
<rect x="214.70" y="290.00" width="2.8" height="2.8" fill="#1c1c90"/>
<rect x="140.20" y="263.70" width="2.8" height="2.8" fill="#1c1c90"/>
<rect x="177.60" y="295.70" width="2.8" height="2.8" fill="#1c1c90"/>
<rect x="214.70" y="295.70" width="2.8" height="2.8" fill="#1c1c90"/>
<rect x="140.20" y="273.20" width="2.8" height="2.8" fill="#1c1c90"/>
<rect x="177.60" y="284.80" width="2.8" height="2.8" fill="#1c1c90"/>
<rect x="214.70" y="306.90" width="2.8" height="2.8" fill="#1c1c90"/>
<rect x="140.20" y="282.70" width="2.8" height="2.8" fill="#1c1c90"/>
<rect x="177.60" y="301.00" width="2.8" height="2.8" fill="#1c1c90"/>
<rect x="214.70" y="295.70" width="2.8" height="2.8" fill="#1c1c90"/>
<rect x="140.20" y="289.40" width="2.8" height="2.8" fill="#1c1c90"/>
<rect x="177.60" y="304.80" width="2.8" height="2.8" fill="#1c1c90"/>
<rect x="214.70" y="299.50" width="2.8" height="2.8" fill="#1c1c90"/>
<line x1="122.3" y1="339.0" x2="122.3" y2="414.2" stroke="#6a6a6a" stroke-width="0.8"/>
<line x1="119.3" y1="340.2" x2="122.3" y2="340.2" stroke="#333333" stroke-width="0.8"/>
<text x="117.7" y="342.0" font-size="5.6" text-anchor="end" fill="#1a1a1a" >0.2</text>
<line x1="119.3" y1="358.2" x2="122.3" y2="358.2" stroke="#333333" stroke-width="0.8"/>
<text x="117.7" y="360.0" font-size="5.6" text-anchor="end" fill="#1a1a1a" >0.15</text>
<line x1="119.3" y1="377.0" x2="122.3" y2="377.0" stroke="#333333" stroke-width="0.8"/>
<text x="117.7" y="378.8" font-size="5.6" text-anchor="end" fill="#1a1a1a" >0.1</text>
<line x1="119.3" y1="395.7" x2="122.3" y2="395.7" stroke="#333333" stroke-width="0.8"/>
<text x="117.7" y="397.5" font-size="5.6" text-anchor="end" fill="#1a1a1a" >0.05</text>
<line x1="119.3" y1="414.0" x2="122.3" y2="414.0" stroke="#333333" stroke-width="0.8"/>
<text x="117.7" y="415.8" font-size="5.6" text-anchor="end" fill="#1a1a1a" >0</text>
<line x1="119.9" y1="349.2" x2="122.3" y2="349.2" stroke="#909090" stroke-width="0.7"/>
<line x1="119.9" y1="367.6" x2="122.3" y2="367.6" stroke="#909090" stroke-width="0.7"/>
<line x1="119.9" y1="386.4" x2="122.3" y2="386.4" stroke="#909090" stroke-width="0.7"/>
<line x1="119.9" y1="404.9" x2="122.3" y2="404.9" stroke="#909090" stroke-width="0.7"/>
<line x1="122.3" y1="414.2" x2="236.0" y2="414.2" stroke="#6a6a6a" stroke-width="0.8"/>
<line x1="141.0" y1="330.5" x2="162.5" y2="330.5" stroke="#777" stroke-width="0.9"/>
<line x1="191.6" y1="330.5" x2="213.0" y2="330.5" stroke="#777" stroke-width="0.9"/>
<text x="178.3" y="333.1" font-size="7.3" text-anchor="middle" fill="#1a1a1a" >p=0.03</text>
<text x="159.0" y="341.9" font-size="7" text-anchor="middle" fill="#1a1a1a" >p=0.001</text>
<text x="196.3" y="341.9" font-size="7" text-anchor="middle" fill="#1a1a1a" >p=0.6</text>
<polyline points="141.6,342.8 179,371.3 216.1,354" fill="none" stroke="#4a52c8" stroke-width="0.8"/>
<polyline points="141.6,346.6 179,365.6 216.1,391.6" fill="none" stroke="#4a52c8" stroke-width="0.8"/>
<polyline points="141.6,350.4 179,357.6 216.1,354" fill="none" stroke="#4a52c8" stroke-width="0.8"/>
<polyline points="141.6,354.4 179,380.8 216.1,394.1" fill="none" stroke="#4a52c8" stroke-width="0.8"/>
<polyline points="141.6,366.2 179,382.5 216.1,386.1" fill="none" stroke="#4a52c8" stroke-width="0.8"/>
<polyline points="141.6,367.7 179,387.8 216.1,391.6" fill="none" stroke="#4a52c8" stroke-width="0.8"/>
<rect x="140.20" y="341.40" width="2.8" height="2.8" fill="#1c1c90"/>
<rect x="177.60" y="369.90" width="2.8" height="2.8" fill="#1c1c90"/>
<rect x="214.70" y="352.60" width="2.8" height="2.8" fill="#1c1c90"/>
<rect x="140.20" y="345.20" width="2.8" height="2.8" fill="#1c1c90"/>
<rect x="177.60" y="364.20" width="2.8" height="2.8" fill="#1c1c90"/>
<rect x="214.70" y="390.20" width="2.8" height="2.8" fill="#1c1c90"/>
<rect x="140.20" y="349.00" width="2.8" height="2.8" fill="#1c1c90"/>
<rect x="177.60" y="356.20" width="2.8" height="2.8" fill="#1c1c90"/>
<rect x="214.70" y="352.60" width="2.8" height="2.8" fill="#1c1c90"/>
<rect x="140.20" y="353.00" width="2.8" height="2.8" fill="#1c1c90"/>
<rect x="177.60" y="379.40" width="2.8" height="2.8" fill="#1c1c90"/>
<rect x="214.70" y="392.70" width="2.8" height="2.8" fill="#1c1c90"/>
<rect x="140.20" y="364.80" width="2.8" height="2.8" fill="#1c1c90"/>
<rect x="177.60" y="381.10" width="2.8" height="2.8" fill="#1c1c90"/>
<rect x="214.70" y="384.70" width="2.8" height="2.8" fill="#1c1c90"/>
<rect x="140.20" y="366.30" width="2.8" height="2.8" fill="#1c1c90"/>
<rect x="177.60" y="386.40" width="2.8" height="2.8" fill="#1c1c90"/>
<rect x="214.70" y="390.20" width="2.8" height="2.8" fill="#1c1c90"/>
<line x1="265.0" y1="246.0" x2="265.0" y2="321.4" stroke="#6a6a6a" stroke-width="0.8"/>
<line x1="262.0" y1="249.6" x2="265.0" y2="249.6" stroke="#333333" stroke-width="0.8"/>
<text x="260.4" y="251.5" font-size="5.8" text-anchor="end" fill="#1a1a1a" >6</text>
<line x1="262.0" y1="257.7" x2="265.0" y2="257.7" stroke="#333333" stroke-width="0.8"/>
<text x="260.4" y="259.6" font-size="5.8" text-anchor="end" fill="#1a1a1a" >5</text>
<line x1="262.0" y1="265.5" x2="265.0" y2="265.5" stroke="#333333" stroke-width="0.8"/>
<text x="260.4" y="267.4" font-size="5.8" text-anchor="end" fill="#1a1a1a" >4</text>
<line x1="262.0" y1="276.5" x2="265.0" y2="276.5" stroke="#333333" stroke-width="0.8"/>
<text x="260.4" y="278.4" font-size="5.8" text-anchor="end" fill="#1a1a1a" >0.6</text>
<line x1="262.0" y1="291.5" x2="265.0" y2="291.5" stroke="#333333" stroke-width="0.8"/>
<text x="260.4" y="293.4" font-size="5.8" text-anchor="end" fill="#1a1a1a" >0.4</text>
<line x1="262.0" y1="306.2" x2="265.0" y2="306.2" stroke="#333333" stroke-width="0.8"/>
<text x="260.4" y="308.1" font-size="5.8" text-anchor="end" fill="#1a1a1a" >0.2</text>
<line x1="262.0" y1="320.7" x2="265.0" y2="320.7" stroke="#333333" stroke-width="0.8"/>
<text x="260.4" y="322.6" font-size="5.8" text-anchor="end" fill="#1a1a1a" >0</text>
<line x1="265.0" y1="321.4" x2="377.0" y2="321.4" stroke="#6a6a6a" stroke-width="0.8"/>
<line x1="285.6" y1="236.5" x2="307.4" y2="236.5" stroke="#777" stroke-width="0.9"/>
<line x1="329.5" y1="236.5" x2="351.5" y2="236.5" stroke="#777" stroke-width="0.9"/>
<text x="318.4" y="239.1" font-size="7.3" text-anchor="middle" fill="#1a1a1a" >p=0.3</text>
<text x="296.0" y="247.0" font-size="7" text-anchor="middle" fill="#1a1a1a" >p=0.12</text>
<text x="341.0" y="247.0" font-size="7" text-anchor="middle" fill="#1a1a1a" >p=0.4</text>
<polyline points="284.1,255.7 321.4,247.6 358.7,257.1" fill="none" stroke="#4a52c8" stroke-width="0.8"/>
<polyline points="284.1,262 321.4,253.9 358.7,252.8" fill="none" stroke="#4a52c8" stroke-width="0.8"/>
<polyline points="284.1,288 321.4,275.9 358.7,270.7" fill="none" stroke="#4a52c8" stroke-width="0.8"/>
<polyline points="284.1,298.7 321.4,309.7 358.7,311.2" fill="none" stroke="#4a52c8" stroke-width="0.8"/>
<polyline points="284.1,311.7 321.4,303.1 358.7,302.5" fill="none" stroke="#4a52c8" stroke-width="0.8"/>
<polyline points="284.1,313.5 321.4,305.4 358.7,309.7" fill="none" stroke="#4a52c8" stroke-width="0.8"/>
<rect x="282.70" y="254.30" width="2.8" height="2.8" fill="#1c1c90"/>
<rect x="320.00" y="246.20" width="2.8" height="2.8" fill="#1c1c90"/>
<rect x="357.30" y="255.70" width="2.8" height="2.8" fill="#1c1c90"/>
<rect x="282.70" y="260.60" width="2.8" height="2.8" fill="#1c1c90"/>
<rect x="320.00" y="252.50" width="2.8" height="2.8" fill="#1c1c90"/>
<rect x="357.30" y="251.40" width="2.8" height="2.8" fill="#1c1c90"/>
<rect x="282.70" y="286.60" width="2.8" height="2.8" fill="#1c1c90"/>
<rect x="320.00" y="274.50" width="2.8" height="2.8" fill="#1c1c90"/>
<rect x="357.30" y="269.30" width="2.8" height="2.8" fill="#1c1c90"/>
<rect x="282.70" y="297.30" width="2.8" height="2.8" fill="#1c1c90"/>
<rect x="320.00" y="308.30" width="2.8" height="2.8" fill="#1c1c90"/>
<rect x="357.30" y="309.80" width="2.8" height="2.8" fill="#1c1c90"/>
<rect x="282.70" y="310.30" width="2.8" height="2.8" fill="#1c1c90"/>
<rect x="320.00" y="301.70" width="2.8" height="2.8" fill="#1c1c90"/>
<rect x="357.30" y="301.10" width="2.8" height="2.8" fill="#1c1c90"/>
<rect x="282.70" y="312.10" width="2.8" height="2.8" fill="#1c1c90"/>
<rect x="320.00" y="304.00" width="2.8" height="2.8" fill="#1c1c90"/>
<rect x="357.30" y="308.30" width="2.8" height="2.8" fill="#1c1c90"/>
<line x1="265.0" y1="339.5" x2="265.0" y2="414.2" stroke="#6a6a6a" stroke-width="0.8"/>
<line x1="262.0" y1="342.3" x2="265.0" y2="342.3" stroke="#333333" stroke-width="0.8"/>
<text x="260.4" y="344.2" font-size="5.8" text-anchor="end" fill="#1a1a1a" >6</text>
<line x1="262.0" y1="350.3" x2="265.0" y2="350.3" stroke="#333333" stroke-width="0.8"/>
<text x="260.4" y="352.2" font-size="5.8" text-anchor="end" fill="#1a1a1a" >5</text>
<line x1="262.0" y1="358.2" x2="265.0" y2="358.2" stroke="#333333" stroke-width="0.8"/>
<text x="260.4" y="360.1" font-size="5.8" text-anchor="end" fill="#1a1a1a" >4</text>
<line x1="262.0" y1="371.4" x2="265.0" y2="371.4" stroke="#333333" stroke-width="0.8"/>
<text x="260.4" y="373.3" font-size="5.8" text-anchor="end" fill="#1a1a1a" >0.2</text>
<line x1="262.0" y1="392.8" x2="265.0" y2="392.8" stroke="#333333" stroke-width="0.8"/>
<text x="260.4" y="394.7" font-size="5.8" text-anchor="end" fill="#1a1a1a" >0.1</text>
<line x1="262.0" y1="413.9" x2="265.0" y2="413.9" stroke="#333333" stroke-width="0.8"/>
<text x="260.4" y="415.8" font-size="5.8" text-anchor="end" fill="#1a1a1a" >0</text>
<line x1="262.6" y1="382.1" x2="265.0" y2="382.1" stroke="#909090" stroke-width="0.7"/>
<line x1="262.6" y1="403.5" x2="265.0" y2="403.5" stroke="#909090" stroke-width="0.7"/>
<line x1="265.0" y1="414.2" x2="377.0" y2="414.2" stroke="#6a6a6a" stroke-width="0.8"/>
<line x1="286.1" y1="330.5" x2="307.2" y2="330.5" stroke="#777" stroke-width="0.9"/>
<line x1="333.0" y1="330.5" x2="351.5" y2="330.5" stroke="#777" stroke-width="0.9"/>
<text x="320.1" y="333.1" font-size="7.3" text-anchor="middle" fill="#1a1a1a" >p=0.14</text>
<text x="300.1" y="342.5" font-size="7" text-anchor="middle" fill="#1a1a1a" >p=0.13</text>
<text x="337.7" y="342.5" font-size="7" text-anchor="middle" fill="#1a1a1a" >p=0.2</text>
<polyline points="283.8,348.3 321.4,344.6 358.7,348.3" fill="none" stroke="#4a52c8" stroke-width="0.8"/>
<polyline points="283.8,358.2 321.4,348 358.7,352.4" fill="none" stroke="#4a52c8" stroke-width="0.8"/>
<polyline points="283.8,380.1 321.4,390.2 358.7,381.6" fill="none" stroke="#4a52c8" stroke-width="0.8"/>
<polyline points="283.8,390 321.4,390.2 358.7,388.5" fill="none" stroke="#4a52c8" stroke-width="0.8"/>
<polyline points="283.8,396.6 321.4,377.2 358.7,377.2" fill="none" stroke="#4a52c8" stroke-width="0.8"/>
<polyline points="283.8,397.5 321.4,379.8 358.7,384.2" fill="none" stroke="#4a52c8" stroke-width="0.8"/>
<rect x="282.40" y="346.90" width="2.8" height="2.8" fill="#1c1c90"/>
<rect x="320.00" y="343.20" width="2.8" height="2.8" fill="#1c1c90"/>
<rect x="357.30" y="346.90" width="2.8" height="2.8" fill="#1c1c90"/>
<rect x="282.40" y="356.80" width="2.8" height="2.8" fill="#1c1c90"/>
<rect x="320.00" y="346.60" width="2.8" height="2.8" fill="#1c1c90"/>
<rect x="357.30" y="351.00" width="2.8" height="2.8" fill="#1c1c90"/>
<rect x="282.40" y="378.70" width="2.8" height="2.8" fill="#1c1c90"/>
<rect x="320.00" y="388.80" width="2.8" height="2.8" fill="#1c1c90"/>
<rect x="357.30" y="380.20" width="2.8" height="2.8" fill="#1c1c90"/>
<rect x="282.40" y="388.60" width="2.8" height="2.8" fill="#1c1c90"/>
<rect x="320.00" y="388.80" width="2.8" height="2.8" fill="#1c1c90"/>
<rect x="357.30" y="387.10" width="2.8" height="2.8" fill="#1c1c90"/>
<rect x="282.40" y="395.20" width="2.8" height="2.8" fill="#1c1c90"/>
<rect x="320.00" y="375.80" width="2.8" height="2.8" fill="#1c1c90"/>
<rect x="357.30" y="375.80" width="2.8" height="2.8" fill="#1c1c90"/>
<rect x="282.40" y="396.10" width="2.8" height="2.8" fill="#1c1c90"/>
<rect x="320.00" y="378.40" width="2.8" height="2.8" fill="#1c1c90"/>
<rect x="357.30" y="382.80" width="2.8" height="2.8" fill="#1c1c90"/>
<polygon points="261.0,273.8 267.6,265.5 268.6,267.2 262.0,275.5" fill="#fff"/>
<line x1="261.0" y1="273.8" x2="267.6" y2="265.5" stroke="#444" stroke-width="0.8"/>
<line x1="262.0" y1="275.5" x2="268.6" y2="267.2" stroke="#444" stroke-width="0.8"/>
<polygon points="261.0,367.0 267.6,358.7 268.6,360.4 262.0,368.7" fill="#fff"/>
<line x1="261.0" y1="367.0" x2="267.6" y2="358.7" stroke="#444" stroke-width="0.8"/>
<line x1="262.0" y1="368.7" x2="268.6" y2="360.4" stroke="#444" stroke-width="0.8"/>
<rect x="165.4" y="419.2" width="69.3" height="9.2" fill="#dedede"/>
<rect x="121.8" y="429.8" width="38.7" height="21.2" fill="#dedede"/>
<rect x="163" y="429.8" width="36.0" height="21.2" fill="#dedede"/>
<rect x="307.6" y="419.3" width="69.9" height="9.1" fill="#dedede"/>
<rect x="264.3" y="429.5" width="38.4" height="21.3" fill="#dedede"/>
<rect x="304.1" y="429.5" width="37.4" height="21.3" fill="#dedede"/>
<text x="64.8" y="426.8" font-size="8.45" text-anchor="start" fill="#1a1a1a" >Wash in AM</text>
<text x="64.8" y="438.3" font-size="8.45" text-anchor="start" fill="#1a1a1a" >Rest Conc.</text>
<text x="64.6" y="449.9" font-size="8.45" text-anchor="start" fill="#1a1a1a" >Plate vs. Tube</text>
<text x="140.5" y="426.8" font-size="8.4" text-anchor="middle" fill="#1a1a1a" >No Wash</text>
<text x="181.0" y="426.8" font-size="8.4" text-anchor="middle" fill="#1a1a1a" >Wash</text>
<text x="219.8" y="426.8" font-size="8.4" text-anchor="middle" fill="#1a1a1a" >Wash</text>
<text x="140.5" y="438.3" font-size="8.4" text-anchor="middle" fill="#1a1a1a">5x10<tspan dy="-3.2" font-size="6.2">6</tspan><tspan dy="3.2">/ml</tspan></text>
<text x="181" y="438.3" font-size="8.4" text-anchor="middle" fill="#1a1a1a">5x10<tspan dy="-3.2" font-size="6.2">6</tspan><tspan dy="3.2">/ml</tspan></text>
<text x="219.8" y="438.3" font-size="8.4" text-anchor="middle" fill="#1a1a1a">2x10<tspan dy="-3.2" font-size="6.2">5</tspan><tspan dy="3.2">/ml</tspan></text>
<text x="140.5" y="449.9" font-size="8.4" text-anchor="middle" fill="#1a1a1a" >Plate</text>
<text x="181.0" y="449.9" font-size="8.4" text-anchor="middle" fill="#1a1a1a" >Plate</text>
<text x="219.8" y="449.9" font-size="8.4" text-anchor="middle" fill="#1a1a1a" >Tube</text>
<text x="283.7" y="426.8" font-size="8.4" text-anchor="middle" fill="#1a1a1a" >No Wash</text>
<text x="323.0" y="426.8" font-size="8.4" text-anchor="middle" fill="#1a1a1a" >Wash</text>
<text x="361.5" y="426.8" font-size="8.4" text-anchor="middle" fill="#1a1a1a" >Wash</text>
<text x="283.7" y="438.3" font-size="8.4" text-anchor="middle" fill="#1a1a1a">5x10<tspan dy="-3.2" font-size="6.2">6</tspan><tspan dy="3.2">/ml</tspan></text>
<text x="323" y="438.3" font-size="8.4" text-anchor="middle" fill="#1a1a1a">5x10<tspan dy="-3.2" font-size="6.2">6</tspan><tspan dy="3.2">/ml</tspan></text>
<text x="361.5" y="438.3" font-size="8.4" text-anchor="middle" fill="#1a1a1a">2x10<tspan dy="-3.2" font-size="6.2">6</tspan><tspan dy="3.2">/ml</tspan></text>
<text x="283.7" y="449.9" font-size="8.4" text-anchor="middle" fill="#1a1a1a" >Plate</text>
<text x="323.0" y="449.9" font-size="8.4" text-anchor="middle" fill="#1a1a1a" >Plate</text>
<text x="361.5" y="449.9" font-size="8.4" text-anchor="middle" fill="#1a1a1a" >Tube</text>
<text x="19.5" y="498.9" font-size="27.8" text-anchor="start" fill="#1a1a1a" >C</text>
<text x="125.7" y="483.4" font-size="10.3" text-anchor="start" font-style="italic" fill="#1a1a1a" >Negative Control</text>
<text x="236.8" y="482.2" font-size="10.45" text-anchor="start" font-style="italic" fill="#1a1a1a" >CMV Stimulation</text>
<text x="346.5" y="481.7" font-size="10.35" text-anchor="start" font-style="italic" fill="#1a1a1a" >GP120 Stimulation</text>
<text x="125.0" y="501.1" font-size="10.5" fill="#1a1a1a">IFN-<tspan font-family="Liberation Serif">γ</tspan><tspan dy="-4" font-size="7">+</tspan></text>
<text x="179.2" y="501.1" font-size="10.5" fill="#1a1a1a">IL-2<tspan dy="-4" font-size="7">+</tspan></text>
<text x="238.6" y="501.5" font-size="10.5" fill="#1a1a1a">IFN-<tspan font-family="Liberation Serif">γ</tspan><tspan dy="-4" font-size="7">+</tspan></text>
<text x="289.2" y="501.5" font-size="10.5" fill="#1a1a1a">IL-2<tspan dy="-4" font-size="7">+</tspan></text>
<text x="353.2" y="501.1" font-size="10.5" fill="#1a1a1a">IFN-<tspan font-family="Liberation Serif">γ</tspan><tspan dy="-4" font-size="7">+</tspan></text>
<text x="397.6" y="501.1" font-size="10.5" fill="#1a1a1a">IL-2<tspan dy="-4" font-size="7">+</tspan></text>
<text x="47.5" y="545" font-size="11.9" fill="#1a1a1a">CD4<tspan dy="-5.3" font-size="10.5">+</tspan></text>
<text x="47.5" y="634.6" font-size="11.9" fill="#1a1a1a">CD8<tspan dy="-5.3" font-size="10.5">+</tspan></text>
<text x="0" y="0" font-size="10.05" fill="#1a1a1a" text-anchor="middle" transform="translate(89.1,589.5) rotate(-90)">Percent of CD4 or CD8 T cells</text>
<text x="46.0" y="684.0" font-size="11.6" text-anchor="start" fill="#1a1a1a" >Costimulation</text>
<line x1="117.2" y1="503.0" x2="117.2" y2="580.2" stroke="#c4c4c4" stroke-width="0.8"/>
<line x1="114.2" y1="514.3" x2="117.2" y2="514.3" stroke="#333333" stroke-width="0.8"/>
<text x="112.2" y="516.8" font-size="7.5" text-anchor="end" fill="#1a1a1a" >0.12</text>
<line x1="114.2" y1="536.0" x2="117.2" y2="536.0" stroke="#333333" stroke-width="0.8"/>
<text x="112.2" y="538.5" font-size="7.5" text-anchor="end" fill="#1a1a1a" >0.08</text>
<line x1="114.2" y1="557.4" x2="117.2" y2="557.4" stroke="#333333" stroke-width="0.8"/>
<text x="112.2" y="559.9" font-size="7.5" text-anchor="end" fill="#1a1a1a" >0.04</text>
<line x1="114.2" y1="578.8" x2="117.2" y2="578.8" stroke="#333333" stroke-width="0.8"/>
<text x="112.2" y="581.3" font-size="7.5" text-anchor="end" fill="#1a1a1a" >0</text>
<line x1="114.8" y1="503.6" x2="117.2" y2="503.6" stroke="#909090" stroke-width="0.7"/>
<line x1="114.8" y1="525.2" x2="117.2" y2="525.2" stroke="#909090" stroke-width="0.7"/>
<line x1="114.8" y1="546.7" x2="117.2" y2="546.7" stroke="#909090" stroke-width="0.7"/>
<line x1="114.8" y1="568.1" x2="117.2" y2="568.1" stroke="#909090" stroke-width="0.7"/>
<line x1="117.2" y1="580.2" x2="208.0" y2="580.2" stroke="#c4c4c4" stroke-width="0.8"/>
<text x="137.4" y="510.7" font-size="6.7" text-anchor="middle" fill="#1a1a1a" >p=0.003</text>
<text x="188.7" y="510.7" font-size="6.7" text-anchor="middle" fill="#1a1a1a" >p=0.006</text>
<line x1="126" y1="574.4" x2="155.3" y2="560.4" stroke="#4a52c8" stroke-width="0.8"/>
<line x1="126" y1="575.6" x2="155.3" y2="562.2" stroke="#4a52c8" stroke-width="0.8"/>
<line x1="126" y1="577.3" x2="155.3" y2="566.2" stroke="#4a52c8" stroke-width="0.8"/>
<line x1="126" y1="575.6" x2="155.3" y2="568.4" stroke="#4a52c8" stroke-width="0.8"/>
<line x1="126" y1="578.9" x2="155.3" y2="571.1" stroke="#4a52c8" stroke-width="0.8"/>
<line x1="126" y1="577.3" x2="155.3" y2="572.9" stroke="#4a52c8" stroke-width="0.8"/>
<line x1="126" y1="578.9" x2="155.3" y2="578.4" stroke="#4a52c8" stroke-width="0.8"/>
<line x1="126" y1="574.4" x2="155.3" y2="566.2" stroke="#4a52c8" stroke-width="0.8"/>
<rect x="124.80" y="573.20" width="2.4" height="2.4" fill="#1c1c90"/>
<rect x="154.10" y="559.20" width="2.4" height="2.4" fill="#1c1c90"/>
<rect x="124.80" y="574.40" width="2.4" height="2.4" fill="#1c1c90"/>
<rect x="154.10" y="561.00" width="2.4" height="2.4" fill="#1c1c90"/>
<rect x="124.80" y="576.10" width="2.4" height="2.4" fill="#1c1c90"/>
<rect x="154.10" y="565.00" width="2.4" height="2.4" fill="#1c1c90"/>
<rect x="124.80" y="574.40" width="2.4" height="2.4" fill="#1c1c90"/>
<rect x="154.10" y="567.20" width="2.4" height="2.4" fill="#1c1c90"/>
<rect x="124.80" y="577.70" width="2.4" height="2.4" fill="#1c1c90"/>
<rect x="154.10" y="569.90" width="2.4" height="2.4" fill="#1c1c90"/>
<rect x="124.80" y="576.10" width="2.4" height="2.4" fill="#1c1c90"/>
<rect x="154.10" y="571.70" width="2.4" height="2.4" fill="#1c1c90"/>
<rect x="124.80" y="577.70" width="2.4" height="2.4" fill="#1c1c90"/>
<rect x="154.10" y="577.20" width="2.4" height="2.4" fill="#1c1c90"/>
<rect x="124.80" y="573.20" width="2.4" height="2.4" fill="#1c1c90"/>
<rect x="154.10" y="565.00" width="2.4" height="2.4" fill="#1c1c90"/>
<line x1="171.1" y1="573.3" x2="198" y2="512.8" stroke="#4a52c8" stroke-width="0.8"/>
<line x1="171.1" y1="575.6" x2="198" y2="522.6" stroke="#4a52c8" stroke-width="0.8"/>
<line x1="171.1" y1="571.1" x2="198" y2="528.7" stroke="#4a52c8" stroke-width="0.8"/>
<line x1="171.1" y1="577.3" x2="198" y2="554.4" stroke="#4a52c8" stroke-width="0.8"/>
<line x1="171.1" y1="578.9" x2="198" y2="564.9" stroke="#4a52c8" stroke-width="0.8"/>
<line x1="171.1" y1="575.6" x2="198" y2="566.2" stroke="#4a52c8" stroke-width="0.8"/>
<line x1="171.1" y1="577.3" x2="198" y2="567.8" stroke="#4a52c8" stroke-width="0.8"/>
<line x1="171.1" y1="578.9" x2="198" y2="568.4" stroke="#4a52c8" stroke-width="0.8"/>
<rect x="169.90" y="572.10" width="2.4" height="2.4" fill="#1c1c90"/>
<rect x="196.80" y="511.60" width="2.4" height="2.4" fill="#1c1c90"/>
<rect x="169.90" y="574.40" width="2.4" height="2.4" fill="#1c1c90"/>
<rect x="196.80" y="521.40" width="2.4" height="2.4" fill="#1c1c90"/>
<rect x="169.90" y="569.90" width="2.4" height="2.4" fill="#1c1c90"/>
<rect x="196.80" y="527.50" width="2.4" height="2.4" fill="#1c1c90"/>
<rect x="169.90" y="576.10" width="2.4" height="2.4" fill="#1c1c90"/>
<rect x="196.80" y="553.20" width="2.4" height="2.4" fill="#1c1c90"/>
<rect x="169.90" y="577.70" width="2.4" height="2.4" fill="#1c1c90"/>
<rect x="196.80" y="563.70" width="2.4" height="2.4" fill="#1c1c90"/>
<rect x="169.90" y="574.40" width="2.4" height="2.4" fill="#1c1c90"/>
<rect x="196.80" y="565.00" width="2.4" height="2.4" fill="#1c1c90"/>
<rect x="169.90" y="576.10" width="2.4" height="2.4" fill="#1c1c90"/>
<rect x="196.80" y="566.60" width="2.4" height="2.4" fill="#1c1c90"/>
<rect x="169.90" y="577.70" width="2.4" height="2.4" fill="#1c1c90"/>
<rect x="196.80" y="567.20" width="2.4" height="2.4" fill="#1c1c90"/>
<line x1="117.2" y1="590.3" x2="117.2" y2="665.5" stroke="#c4c4c4" stroke-width="0.8"/>
<line x1="114.2" y1="601.1" x2="117.2" y2="601.1" stroke="#333333" stroke-width="0.8"/>
<text x="111.3" y="603.6" font-size="7.5" text-anchor="end" fill="#1a1a1a" >0.03</text>
<line x1="114.2" y1="622.8" x2="117.2" y2="622.8" stroke="#333333" stroke-width="0.8"/>
<text x="111.3" y="625.3" font-size="7.5" text-anchor="end" fill="#1a1a1a" >0.02</text>
<line x1="114.2" y1="644.1" x2="117.2" y2="644.1" stroke="#333333" stroke-width="0.8"/>
<text x="111.3" y="646.6" font-size="7.5" text-anchor="end" fill="#1a1a1a" >0.01</text>
<line x1="114.2" y1="665.5" x2="117.2" y2="665.5" stroke="#333333" stroke-width="0.8"/>
<text x="111.3" y="668.0" font-size="7.5" text-anchor="end" fill="#1a1a1a" >0</text>
<line x1="114.8" y1="590.8" x2="117.2" y2="590.8" stroke="#909090" stroke-width="0.7"/>
<line x1="114.8" y1="612.0" x2="117.2" y2="612.0" stroke="#909090" stroke-width="0.7"/>
<line x1="114.8" y1="633.4" x2="117.2" y2="633.4" stroke="#909090" stroke-width="0.7"/>
<line x1="114.8" y1="654.8" x2="117.2" y2="654.8" stroke="#909090" stroke-width="0.7"/>
<line x1="117.2" y1="665.5" x2="207.0" y2="665.5" stroke="#c4c4c4" stroke-width="0.8"/>
<text x="139.4" y="596.9" font-size="6.7" text-anchor="middle" fill="#1a1a1a" >p=0.01</text>
<text x="187.2" y="596.9" font-size="6.7" text-anchor="middle" fill="#1a1a1a" >p=0.08</text>
<line x1="126" y1="657" x2="154.5" y2="597.8" stroke="#4a52c8" stroke-width="0.8"/>
<line x1="126" y1="659.1" x2="154.5" y2="611.1" stroke="#4a52c8" stroke-width="0.8"/>
<line x1="126" y1="653" x2="154.5" y2="633.8" stroke="#4a52c8" stroke-width="0.8"/>
<line x1="126" y1="661" x2="154.5" y2="635.1" stroke="#4a52c8" stroke-width="0.8"/>
<line x1="126" y1="654.9" x2="154.5" y2="636.5" stroke="#4a52c8" stroke-width="0.8"/>
<line x1="126" y1="662.9" x2="154.5" y2="653" stroke="#4a52c8" stroke-width="0.8"/>
<line x1="126" y1="657" x2="154.5" y2="659.1" stroke="#4a52c8" stroke-width="0.8"/>
<line x1="126" y1="661" x2="154.5" y2="653" stroke="#4a52c8" stroke-width="0.8"/>
<rect x="124.80" y="655.80" width="2.4" height="2.4" fill="#1c1c90"/>
<rect x="153.30" y="596.60" width="2.4" height="2.4" fill="#1c1c90"/>
<rect x="124.80" y="657.90" width="2.4" height="2.4" fill="#1c1c90"/>
<rect x="153.30" y="609.90" width="2.4" height="2.4" fill="#1c1c90"/>
<rect x="124.80" y="651.80" width="2.4" height="2.4" fill="#1c1c90"/>
<rect x="153.30" y="632.60" width="2.4" height="2.4" fill="#1c1c90"/>
<rect x="124.80" y="659.80" width="2.4" height="2.4" fill="#1c1c90"/>
<rect x="153.30" y="633.90" width="2.4" height="2.4" fill="#1c1c90"/>
<rect x="124.80" y="653.70" width="2.4" height="2.4" fill="#1c1c90"/>
<rect x="153.30" y="635.30" width="2.4" height="2.4" fill="#1c1c90"/>
<rect x="124.80" y="661.70" width="2.4" height="2.4" fill="#1c1c90"/>
<rect x="153.30" y="651.80" width="2.4" height="2.4" fill="#1c1c90"/>
<rect x="124.80" y="655.80" width="2.4" height="2.4" fill="#1c1c90"/>
<rect x="153.30" y="657.90" width="2.4" height="2.4" fill="#1c1c90"/>
<rect x="124.80" y="659.80" width="2.4" height="2.4" fill="#1c1c90"/>
<rect x="153.30" y="651.80" width="2.4" height="2.4" fill="#1c1c90"/>
<line x1="170.8" y1="637.8" x2="198.8" y2="608.5" stroke="#4a52c8" stroke-width="0.8"/>
<line x1="170.8" y1="659.7" x2="198.8" y2="614.3" stroke="#4a52c8" stroke-width="0.8"/>
<line x1="170.8" y1="653" x2="198.8" y2="639.7" stroke="#4a52c8" stroke-width="0.8"/>
<line x1="170.8" y1="657" x2="198.8" y2="641.5" stroke="#4a52c8" stroke-width="0.8"/>
<line x1="170.8" y1="650.3" x2="198.8" y2="654.9" stroke="#4a52c8" stroke-width="0.8"/>
<line x1="170.8" y1="662.3" x2="198.8" y2="651.7" stroke="#4a52c8" stroke-width="0.8"/>
<line x1="170.8" y1="659.7" x2="198.8" y2="657" stroke="#4a52c8" stroke-width="0.8"/>
<line x1="170.8" y1="653" x2="198.8" y2="659.7" stroke="#4a52c8" stroke-width="0.8"/>
<rect x="169.60" y="636.60" width="2.4" height="2.4" fill="#1c1c90"/>
<rect x="197.60" y="607.30" width="2.4" height="2.4" fill="#1c1c90"/>
<rect x="169.60" y="658.50" width="2.4" height="2.4" fill="#1c1c90"/>
<rect x="197.60" y="613.10" width="2.4" height="2.4" fill="#1c1c90"/>
<rect x="169.60" y="651.80" width="2.4" height="2.4" fill="#1c1c90"/>
<rect x="197.60" y="638.50" width="2.4" height="2.4" fill="#1c1c90"/>
<rect x="169.60" y="655.80" width="2.4" height="2.4" fill="#1c1c90"/>
<rect x="197.60" y="640.30" width="2.4" height="2.4" fill="#1c1c90"/>
<rect x="169.60" y="649.10" width="2.4" height="2.4" fill="#1c1c90"/>
<rect x="197.60" y="653.70" width="2.4" height="2.4" fill="#1c1c90"/>
<rect x="169.60" y="661.10" width="2.4" height="2.4" fill="#1c1c90"/>
<rect x="197.60" y="650.50" width="2.4" height="2.4" fill="#1c1c90"/>
<rect x="169.60" y="658.50" width="2.4" height="2.4" fill="#1c1c90"/>
<rect x="197.60" y="655.80" width="2.4" height="2.4" fill="#1c1c90"/>
<rect x="169.60" y="651.80" width="2.4" height="2.4" fill="#1c1c90"/>
<rect x="197.60" y="658.50" width="2.4" height="2.4" fill="#1c1c90"/>
<line x1="231.5" y1="505.0" x2="231.5" y2="580.4" stroke="#c4c4c4" stroke-width="0.8"/>
<line x1="228.5" y1="505.1" x2="231.5" y2="505.1" stroke="#333333" stroke-width="0.8"/>
<text x="225.4" y="507.6" font-size="7.5" text-anchor="end" fill="#1a1a1a" >1.5</text>
<line x1="228.5" y1="526.4" x2="231.5" y2="526.4" stroke="#333333" stroke-width="0.8"/>
<text x="225.4" y="528.9" font-size="7.5" text-anchor="end" fill="#1a1a1a" >1</text>
<line x1="228.5" y1="548.0" x2="231.5" y2="548.0" stroke="#333333" stroke-width="0.8"/>
<text x="225.4" y="550.5" font-size="7.5" text-anchor="end" fill="#1a1a1a" >0.5</text>
<line x1="228.5" y1="569.4" x2="231.5" y2="569.4" stroke="#333333" stroke-width="0.8"/>
<text x="225.4" y="571.9" font-size="7.5" text-anchor="end" fill="#1a1a1a" >0</text>
<line x1="229.1" y1="515.7" x2="231.5" y2="515.7" stroke="#909090" stroke-width="0.7"/>
<line x1="229.1" y1="537.2" x2="231.5" y2="537.2" stroke="#909090" stroke-width="0.7"/>
<line x1="229.1" y1="558.7" x2="231.5" y2="558.7" stroke="#909090" stroke-width="0.7"/>
<line x1="231.5" y1="580.4" x2="320.0" y2="580.4" stroke="#c4c4c4" stroke-width="0.8"/>
<line x1="241.8" y1="534.8" x2="269.5" y2="510.8" stroke="#4a52c8" stroke-width="0.8"/>
<line x1="241.8" y1="551.3" x2="269.5" y2="552.7" stroke="#4a52c8" stroke-width="0.8"/>
<line x1="241.8" y1="559.9" x2="269.5" y2="552.7" stroke="#4a52c8" stroke-width="0.8"/>
<line x1="241.8" y1="562.8" x2="269.5" y2="567.3" stroke="#4a52c8" stroke-width="0.8"/>
<line x1="241.8" y1="568.7" x2="269.5" y2="569.2" stroke="#4a52c8" stroke-width="0.8"/>
<line x1="241.8" y1="570" x2="269.5" y2="570.8" stroke="#4a52c8" stroke-width="0.8"/>
<rect x="240.60" y="533.60" width="2.4" height="2.4" fill="#1c1c90"/>
<rect x="268.30" y="509.60" width="2.4" height="2.4" fill="#1c1c90"/>
<rect x="240.60" y="550.10" width="2.4" height="2.4" fill="#1c1c90"/>
<rect x="268.30" y="551.50" width="2.4" height="2.4" fill="#1c1c90"/>
<rect x="240.60" y="558.70" width="2.4" height="2.4" fill="#1c1c90"/>
<rect x="268.30" y="551.50" width="2.4" height="2.4" fill="#1c1c90"/>
<rect x="240.60" y="561.60" width="2.4" height="2.4" fill="#1c1c90"/>
<rect x="268.30" y="566.10" width="2.4" height="2.4" fill="#1c1c90"/>
<rect x="240.60" y="567.50" width="2.4" height="2.4" fill="#1c1c90"/>
<rect x="268.30" y="568.00" width="2.4" height="2.4" fill="#1c1c90"/>
<rect x="240.60" y="568.80" width="2.4" height="2.4" fill="#1c1c90"/>
<rect x="268.30" y="569.60" width="2.4" height="2.4" fill="#1c1c90"/>
<line x1="286.9" y1="542.5" x2="313.8" y2="528.1" stroke="#4a52c8" stroke-width="0.8"/>
<line x1="286.9" y1="562" x2="313.8" y2="542" stroke="#4a52c8" stroke-width="0.8"/>
<line x1="286.9" y1="555.3" x2="313.8" y2="555.9" stroke="#4a52c8" stroke-width="0.8"/>
<line x1="286.9" y1="569.2" x2="313.8" y2="570" stroke="#4a52c8" stroke-width="0.8"/>
<line x1="286.9" y1="569.2" x2="313.8" y2="570.8" stroke="#4a52c8" stroke-width="0.8"/>
<rect x="285.70" y="541.30" width="2.4" height="2.4" fill="#1c1c90"/>
<rect x="312.60" y="526.90" width="2.4" height="2.4" fill="#1c1c90"/>
<rect x="285.70" y="560.80" width="2.4" height="2.4" fill="#1c1c90"/>
<rect x="312.60" y="540.80" width="2.4" height="2.4" fill="#1c1c90"/>
<rect x="285.70" y="554.10" width="2.4" height="2.4" fill="#1c1c90"/>
<rect x="312.60" y="554.70" width="2.4" height="2.4" fill="#1c1c90"/>
<rect x="285.70" y="568.00" width="2.4" height="2.4" fill="#1c1c90"/>
<rect x="312.60" y="568.80" width="2.4" height="2.4" fill="#1c1c90"/>
<rect x="285.70" y="568.00" width="2.4" height="2.4" fill="#1c1c90"/>
<rect x="312.60" y="569.60" width="2.4" height="2.4" fill="#1c1c90"/>
<line x1="230.8" y1="591.0" x2="230.8" y2="665.5" stroke="#c4c4c4" stroke-width="0.8"/>
<line x1="227.8" y1="601.3" x2="230.8" y2="601.3" stroke="#333333" stroke-width="0.8"/>
<text x="225.4" y="603.8" font-size="7.5" text-anchor="end" fill="#1a1a1a" >3</text>
<line x1="227.8" y1="621.3" x2="230.8" y2="621.3" stroke="#333333" stroke-width="0.8"/>
<text x="225.4" y="623.8" font-size="7.5" text-anchor="end" fill="#1a1a1a" >2</text>
<line x1="227.8" y1="641.3" x2="230.8" y2="641.3" stroke="#333333" stroke-width="0.8"/>
<text x="225.4" y="643.8" font-size="7.5" text-anchor="end" fill="#1a1a1a" >1</text>
<line x1="227.8" y1="661.3" x2="230.8" y2="661.3" stroke="#333333" stroke-width="0.8"/>
<text x="225.4" y="663.8" font-size="7.5" text-anchor="end" fill="#1a1a1a" >0</text>
<line x1="228.4" y1="591.3" x2="230.8" y2="591.3" stroke="#909090" stroke-width="0.7"/>
<line x1="228.4" y1="611.3" x2="230.8" y2="611.3" stroke="#909090" stroke-width="0.7"/>
<line x1="228.4" y1="631.3" x2="230.8" y2="631.3" stroke="#909090" stroke-width="0.7"/>
<line x1="228.4" y1="651.3" x2="230.8" y2="651.3" stroke="#909090" stroke-width="0.7"/>
<line x1="230.8" y1="665.5" x2="320.0" y2="665.5" stroke="#c4c4c4" stroke-width="0.8"/>
<line x1="243.1" y1="597.3" x2="269.8" y2="598.7" stroke="#4a52c8" stroke-width="0.8"/>
<line x1="243.1" y1="648" x2="269.8" y2="648.8" stroke="#4a52c8" stroke-width="0.8"/>
<line x1="243.1" y1="655.5" x2="269.8" y2="641.9" stroke="#4a52c8" stroke-width="0.8"/>
<line x1="243.1" y1="658.1" x2="269.8" y2="652.5" stroke="#4a52c8" stroke-width="0.8"/>
<line x1="243.1" y1="661.3" x2="269.8" y2="657.3" stroke="#4a52c8" stroke-width="0.8"/>
<rect x="241.90" y="596.10" width="2.4" height="2.4" fill="#1c1c90"/>
<rect x="268.60" y="597.50" width="2.4" height="2.4" fill="#1c1c90"/>
<rect x="241.90" y="646.80" width="2.4" height="2.4" fill="#1c1c90"/>
<rect x="268.60" y="647.60" width="2.4" height="2.4" fill="#1c1c90"/>
<rect x="241.90" y="654.30" width="2.4" height="2.4" fill="#1c1c90"/>
<rect x="268.60" y="640.70" width="2.4" height="2.4" fill="#1c1c90"/>
<rect x="241.90" y="656.90" width="2.4" height="2.4" fill="#1c1c90"/>
<rect x="268.60" y="651.30" width="2.4" height="2.4" fill="#1c1c90"/>
<rect x="241.90" y="660.10" width="2.4" height="2.4" fill="#1c1c90"/>
<rect x="268.60" y="656.10" width="2.4" height="2.4" fill="#1c1c90"/>
<line x1="287.7" y1="627.2" x2="313" y2="633.3" stroke="#4a52c8" stroke-width="0.8"/>
<line x1="287.7" y1="657.9" x2="313" y2="655.5" stroke="#4a52c8" stroke-width="0.8"/>
<line x1="287.7" y1="659.5" x2="313" y2="657.3" stroke="#4a52c8" stroke-width="0.8"/>
<line x1="287.7" y1="660.5" x2="313" y2="659.5" stroke="#4a52c8" stroke-width="0.8"/>
<rect x="286.50" y="626.00" width="2.4" height="2.4" fill="#1c1c90"/>
<rect x="311.80" y="632.10" width="2.4" height="2.4" fill="#1c1c90"/>
<rect x="286.50" y="656.70" width="2.4" height="2.4" fill="#1c1c90"/>
<rect x="311.80" y="654.30" width="2.4" height="2.4" fill="#1c1c90"/>
<rect x="286.50" y="658.30" width="2.4" height="2.4" fill="#1c1c90"/>
<rect x="311.80" y="656.10" width="2.4" height="2.4" fill="#1c1c90"/>
<rect x="286.50" y="659.30" width="2.4" height="2.4" fill="#1c1c90"/>
<rect x="311.80" y="658.30" width="2.4" height="2.4" fill="#1c1c90"/>
<line x1="342.6" y1="504.3" x2="342.6" y2="579.7" stroke="#c4c4c4" stroke-width="0.8"/>
<line x1="339.6" y1="504.3" x2="342.6" y2="504.3" stroke="#333333" stroke-width="0.8"/>
<text x="337.2" y="506.8" font-size="7.5" text-anchor="end" fill="#1a1a1a" >0.4</text>
<line x1="339.6" y1="521.5" x2="342.6" y2="521.5" stroke="#333333" stroke-width="0.8"/>
<text x="337.2" y="524.0" font-size="7.5" text-anchor="end" fill="#1a1a1a" >0.3</text>
<line x1="339.6" y1="538.3" x2="342.6" y2="538.3" stroke="#333333" stroke-width="0.8"/>
<text x="337.2" y="540.8" font-size="7.5" text-anchor="end" fill="#1a1a1a" >0.2</text>
<line x1="339.6" y1="555.2" x2="342.6" y2="555.2" stroke="#333333" stroke-width="0.8"/>
<text x="337.2" y="557.7" font-size="7.5" text-anchor="end" fill="#1a1a1a" >0.1</text>
<line x1="339.6" y1="572.4" x2="342.6" y2="572.4" stroke="#333333" stroke-width="0.8"/>
<text x="337.2" y="574.9" font-size="7.5" text-anchor="end" fill="#1a1a1a" >0</text>
<line x1="340.2" y1="512.9" x2="342.6" y2="512.9" stroke="#909090" stroke-width="0.7"/>
<line x1="340.2" y1="529.9" x2="342.6" y2="529.9" stroke="#909090" stroke-width="0.7"/>
<line x1="340.2" y1="546.8" x2="342.6" y2="546.8" stroke="#909090" stroke-width="0.7"/>
<line x1="340.2" y1="563.8" x2="342.6" y2="563.8" stroke="#909090" stroke-width="0.7"/>
<line x1="342.6" y1="579.7" x2="429.0" y2="579.7" stroke="#c4c4c4" stroke-width="0.8"/>
<line x1="351.4" y1="569.4" x2="378.3" y2="567.8" stroke="#4a52c8" stroke-width="0.8"/>
<line x1="351.4" y1="571.4" x2="378.3" y2="570.6" stroke="#4a52c8" stroke-width="0.8"/>
<line x1="351.4" y1="572.2" x2="378.3" y2="574.2" stroke="#4a52c8" stroke-width="0.8"/>
<rect x="350.20" y="568.20" width="2.4" height="2.4" fill="#1c1c90"/>
<rect x="377.10" y="566.60" width="2.4" height="2.4" fill="#1c1c90"/>
<rect x="350.20" y="570.20" width="2.4" height="2.4" fill="#1c1c90"/>
<rect x="377.10" y="569.40" width="2.4" height="2.4" fill="#1c1c90"/>
<rect x="350.20" y="571.00" width="2.4" height="2.4" fill="#1c1c90"/>
<rect x="377.10" y="573.00" width="2.4" height="2.4" fill="#1c1c90"/>
<line x1="395.8" y1="511.1" x2="422.2" y2="549.7" stroke="#4a52c8" stroke-width="0.8"/>
<line x1="395.8" y1="532.5" x2="422.2" y2="513.9" stroke="#4a52c8" stroke-width="0.8"/>
<line x1="395.8" y1="541.7" x2="422.2" y2="525.6" stroke="#4a52c8" stroke-width="0.8"/>
<line x1="395.8" y1="563.1" x2="422.2" y2="566.7" stroke="#4a52c8" stroke-width="0.8"/>
<line x1="395.8" y1="571.4" x2="422.2" y2="577.8" stroke="#4a52c8" stroke-width="0.8"/>
<rect x="394.60" y="509.90" width="2.4" height="2.4" fill="#1c1c90"/>
<rect x="421.00" y="548.50" width="2.4" height="2.4" fill="#1c1c90"/>
<rect x="394.60" y="531.30" width="2.4" height="2.4" fill="#1c1c90"/>
<rect x="421.00" y="512.70" width="2.4" height="2.4" fill="#1c1c90"/>
<rect x="394.60" y="540.50" width="2.4" height="2.4" fill="#1c1c90"/>
<rect x="421.00" y="524.40" width="2.4" height="2.4" fill="#1c1c90"/>
<rect x="394.60" y="561.90" width="2.4" height="2.4" fill="#1c1c90"/>
<rect x="421.00" y="565.50" width="2.4" height="2.4" fill="#1c1c90"/>
<rect x="394.60" y="570.20" width="2.4" height="2.4" fill="#1c1c90"/>
<rect x="421.00" y="576.60" width="2.4" height="2.4" fill="#1c1c90"/>
<line x1="341.3" y1="589.9" x2="341.3" y2="665.3" stroke="#c4c4c4" stroke-width="0.8"/>
<line x1="338.3" y1="590.7" x2="341.3" y2="590.7" stroke="#333333" stroke-width="0.8"/>
<text x="337.2" y="593.2" font-size="7.5" text-anchor="end" fill="#1a1a1a" >0.1</text>
<line x1="338.3" y1="621.3" x2="341.3" y2="621.3" stroke="#333333" stroke-width="0.8"/>
<text x="337.2" y="623.8" font-size="7.5" text-anchor="end" fill="#1a1a1a" >0.05</text>
<line x1="338.3" y1="653.4" x2="341.3" y2="653.4" stroke="#333333" stroke-width="0.8"/>
<text x="337.2" y="655.9" font-size="7.5" text-anchor="end" fill="#1a1a1a" >0</text>
<line x1="338.9" y1="606.0" x2="341.3" y2="606.0" stroke="#909090" stroke-width="0.7"/>
<line x1="338.9" y1="637.2" x2="341.3" y2="637.2" stroke="#909090" stroke-width="0.7"/>
<line x1="341.3" y1="665.3" x2="432.0" y2="665.3" stroke="#c4c4c4" stroke-width="0.8"/>
<line x1="352" y1="615.6" x2="377" y2="592.5" stroke="#4a52c8" stroke-width="0.8"/>
<line x1="352" y1="645.8" x2="377" y2="645.8" stroke="#4a52c8" stroke-width="0.8"/>
<line x1="352" y1="650.3" x2="377" y2="655.8" stroke="#4a52c8" stroke-width="0.8"/>
<line x1="352" y1="656.4" x2="377" y2="659.7" stroke="#4a52c8" stroke-width="0.8"/>
<rect x="350.80" y="614.40" width="2.4" height="2.4" fill="#1c1c90"/>
<rect x="375.80" y="591.30" width="2.4" height="2.4" fill="#1c1c90"/>
<rect x="350.80" y="644.60" width="2.4" height="2.4" fill="#1c1c90"/>
<rect x="375.80" y="644.60" width="2.4" height="2.4" fill="#1c1c90"/>
<rect x="350.80" y="649.10" width="2.4" height="2.4" fill="#1c1c90"/>
<rect x="375.80" y="654.60" width="2.4" height="2.4" fill="#1c1c90"/>
<rect x="350.80" y="655.20" width="2.4" height="2.4" fill="#1c1c90"/>
<rect x="375.80" y="658.50" width="2.4" height="2.4" fill="#1c1c90"/>
<line x1="395.3" y1="648" x2="422.2" y2="649.4" stroke="#4a52c8" stroke-width="0.8"/>
<line x1="395.3" y1="650.8" x2="422.2" y2="651.7" stroke="#4a52c8" stroke-width="0.8"/>
<line x1="395.3" y1="653.1" x2="422.2" y2="651.7" stroke="#4a52c8" stroke-width="0.8"/>
<rect x="394.10" y="646.80" width="2.4" height="2.4" fill="#1c1c90"/>
<rect x="421.00" y="648.20" width="2.4" height="2.4" fill="#1c1c90"/>
<rect x="394.10" y="649.60" width="2.4" height="2.4" fill="#1c1c90"/>
<rect x="421.00" y="650.50" width="2.4" height="2.4" fill="#1c1c90"/>
<rect x="394.10" y="651.90" width="2.4" height="2.4" fill="#1c1c90"/>
<rect x="421.00" y="650.50" width="2.4" height="2.4" fill="#1c1c90"/>
<rect x="127.10" y="680.15" width="4" height="1.9" fill="#111"/>
<rect x="146.10" y="678.95" width="7.6" height="1.9" fill="#111"/>
<rect x="148.95" y="676.10" width="1.9" height="7.6" fill="#111"/>
<rect x="172.00" y="680.15" width="4" height="1.9" fill="#111"/>
<rect x="192.40" y="678.95" width="7.6" height="1.9" fill="#111"/>
<rect x="195.25" y="676.10" width="1.9" height="7.6" fill="#111"/>
<rect x="242.20" y="680.15" width="4" height="1.9" fill="#111"/>
<rect x="263.10" y="678.95" width="7.6" height="1.9" fill="#111"/>
<rect x="265.95" y="676.10" width="1.9" height="7.6" fill="#111"/>
<rect x="287.00" y="680.15" width="4" height="1.9" fill="#111"/>
<rect x="307.90" y="678.95" width="7.6" height="1.9" fill="#111"/>
<rect x="310.75" y="676.10" width="1.9" height="7.6" fill="#111"/>
<rect x="350.00" y="680.15" width="4" height="1.9" fill="#111"/>
<rect x="367.90" y="678.95" width="7.6" height="1.9" fill="#111"/>
<rect x="370.75" y="676.10" width="1.9" height="7.6" fill="#111"/>
<rect x="393.80" y="680.15" width="4" height="1.9" fill="#111"/>
<rect x="413.70" y="678.95" width="7.6" height="1.9" fill="#111"/>
<rect x="416.55" y="676.10" width="1.9" height="7.6" fill="#111"/>
</svg></body></html>
